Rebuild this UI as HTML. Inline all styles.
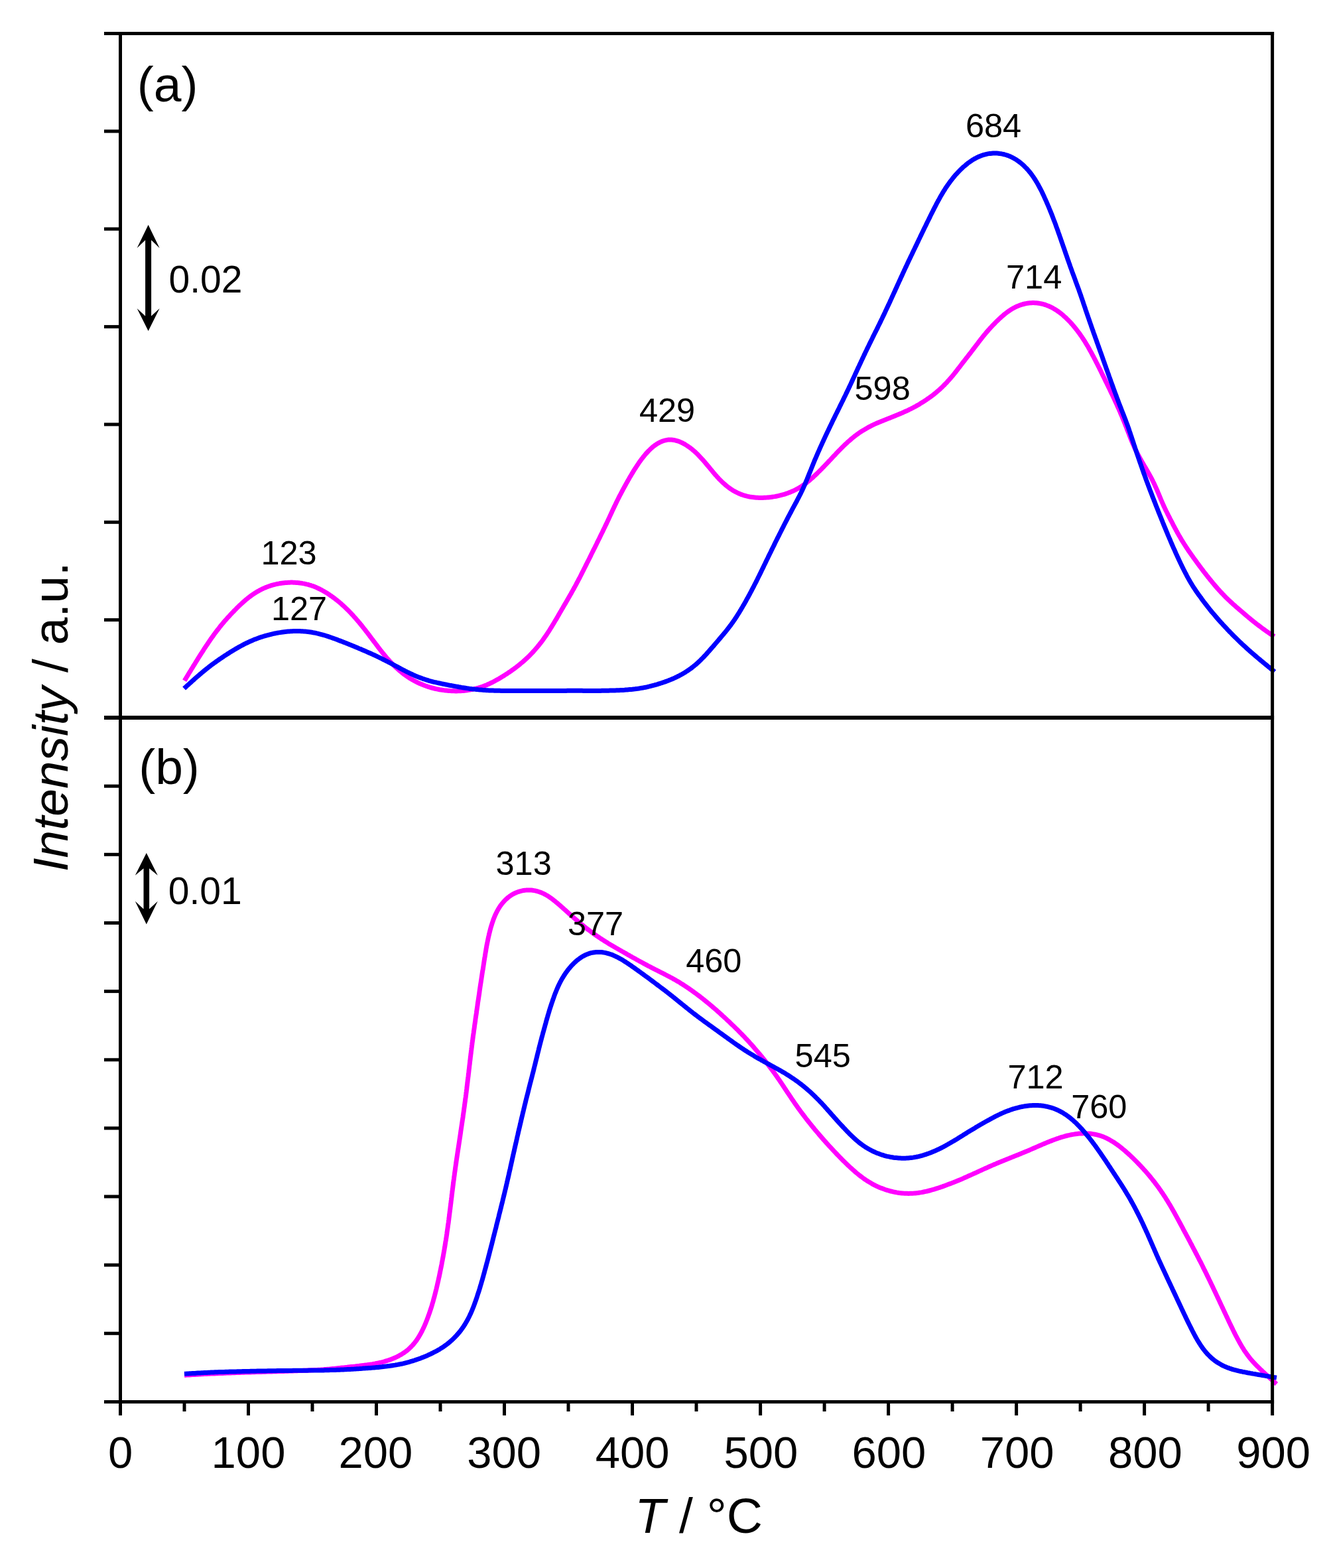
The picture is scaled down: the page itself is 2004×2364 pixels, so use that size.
<!DOCTYPE html>
<html><head><meta charset="utf-8"><title>TPD profiles</title>
<style>html,body{margin:0;padding:0;background:#fff;}svg{display:block;}</style></head>
<body><svg xmlns="http://www.w3.org/2000/svg" width="2004" height="2364" viewBox="0 0 2004 2364">
<rect width="2004" height="2364" fill="#fff"/>
<path d="M278.2,1026.2 L279.2,1024.5 L280.3,1022.8 L281.3,1021.1 L282.3,1019.4 L283.4,1017.6 L284.4,1015.9 L285.5,1014.2 L286.5,1012.5 L287.6,1010.8 L288.6,1009.1 L289.7,1007.4 L290.7,1005.7 L291.7,1004.0 L292.8,1002.3 L293.9,1000.6 L294.9,998.9 L296.0,997.2 L297.0,995.5 L298.1,993.8 L299.1,992.1 L300.2,990.4 L301.3,988.7 L302.3,987.0 L303.4,985.3 L304.5,983.7 L305.6,982.0 L306.7,980.3 L307.7,978.6 L308.8,976.9 L309.9,975.3 L311.0,973.6 L312.2,971.9 L313.3,970.3 L314.4,968.6 L315.5,967.0 L316.6,965.3 L317.8,963.7 L318.9,962.0 L320.1,960.4 L321.3,958.8 L322.4,957.1 L323.6,955.5 L324.8,953.9 L326.0,952.3 L327.2,950.7 L328.4,949.2 L329.7,947.6 L330.9,946.0 L332.1,944.4 L333.4,942.9 L334.7,941.3 L336.0,939.8 L337.2,938.3 L338.5,936.7 L339.9,935.2 L341.2,933.7 L342.5,932.2 L343.9,930.7 L345.2,929.3 L346.6,927.8 L347.9,926.3 L349.3,924.9 L350.7,923.4 L352.1,922.0 L353.5,920.5 L354.9,919.1 L356.3,917.7 L357.7,916.2 L359.2,914.8 L360.6,913.4 L362.1,912.0 L363.5,910.7 L365.0,909.3 L366.5,908.0 L368.0,906.6 L369.5,905.3 L371.0,904.0 L372.6,902.8 L374.1,901.5 L375.7,900.3 L377.3,899.1 L378.9,897.9 L380.5,896.7 L382.2,895.6 L383.9,894.5 L385.5,893.5 L387.2,892.4 L389.0,891.4 L390.7,890.4 L392.5,889.5 L394.2,888.6 L396.0,887.7 L397.8,886.9 L399.6,886.1 L401.5,885.4 L403.3,884.6 L405.2,884.0 L407.1,883.3 L409.0,882.7 L410.9,882.1 L412.8,881.6 L414.8,881.1 L416.7,880.7 L418.7,880.2 L420.6,879.9 L422.6,879.5 L424.6,879.2 L426.6,878.9 L428.6,878.7 L430.6,878.5 L432.6,878.4 L434.6,878.3 L436.6,878.2 L438.6,878.1 L440.6,878.1 L442.6,878.2 L444.6,878.3 L446.6,878.4 L448.5,878.5 L450.5,878.7 L452.5,879.0 L454.5,879.2 L456.4,879.6 L458.4,879.9 L460.3,880.3 L462.3,880.8 L464.2,881.2 L466.1,881.8 L468.0,882.3 L469.9,883.0 L471.8,883.6 L473.6,884.3 L475.5,885.1 L477.3,885.8 L479.1,886.7 L480.9,887.5 L482.7,888.4 L484.5,889.3 L486.2,890.3 L488.0,891.3 L489.7,892.3 L491.4,893.3 L493.1,894.3 L494.8,895.4 L496.5,896.5 L498.1,897.7 L499.8,898.8 L501.4,900.0 L503.0,901.1 L504.6,902.3 L506.2,903.6 L507.8,904.8 L509.4,906.1 L510.9,907.3 L512.5,908.6 L514.0,909.9 L515.5,911.3 L517.0,912.6 L518.5,914.0 L519.9,915.3 L521.4,916.7 L522.8,918.1 L524.3,919.5 L525.7,920.9 L527.1,922.4 L528.5,923.8 L529.8,925.3 L531.2,926.7 L532.6,928.2 L533.9,929.7 L535.2,931.2 L536.6,932.7 L537.9,934.2 L539.2,935.7 L540.5,937.3 L541.8,938.8 L543.0,940.3 L544.3,941.9 L545.6,943.4 L546.8,945.0 L548.1,946.6 L549.3,948.1 L550.6,949.7 L551.8,951.3 L553.0,952.9 L554.3,954.5 L555.5,956.1 L556.7,957.7 L557.9,959.3 L559.1,960.9 L560.3,962.5 L561.5,964.1 L562.7,965.7 L563.9,967.3 L565.2,968.9 L566.4,970.5 L567.6,972.1 L568.8,973.7 L570.0,975.3 L571.2,976.9 L572.4,978.5 L573.7,980.1 L574.9,981.6 L576.1,983.2 L577.4,984.8 L578.6,986.3 L579.9,987.9 L581.2,989.4 L582.5,991.0 L583.8,992.5 L585.1,994.0 L586.5,995.5 L587.8,997.0 L589.2,998.4 L590.6,999.9 L591.9,1001.3 L593.4,1002.7 L594.8,1004.1 L596.2,1005.5 L597.7,1006.9 L599.2,1008.2 L600.7,1009.5 L602.2,1010.9 L603.7,1012.1 L605.2,1013.4 L606.8,1014.7 L608.4,1015.9 L610.0,1017.1 L611.6,1018.2 L613.2,1019.4 L614.9,1020.5 L616.5,1021.6 L618.2,1022.7 L619.9,1023.7 L621.6,1024.7 L623.4,1025.7 L625.1,1026.7 L626.9,1027.6 L628.6,1028.5 L630.4,1029.4 L632.2,1030.2 L634.1,1031.0 L635.9,1031.8 L637.8,1032.6 L639.6,1033.3 L641.5,1034.0 L643.4,1034.6 L645.3,1035.3 L647.2,1035.9 L649.1,1036.5 L651.0,1037.0 L653.0,1037.5 L654.9,1038.0 L656.9,1038.5 L658.8,1038.9 L660.8,1039.3 L662.8,1039.7 L664.7,1040.0 L666.7,1040.3 L668.7,1040.6 L670.7,1040.9 L672.7,1041.1 L674.7,1041.3 L676.7,1041.5 L678.7,1041.6 L680.7,1041.7 L682.7,1041.8 L684.7,1041.8 L686.7,1041.9 L688.7,1041.9 L690.7,1041.8 L692.7,1041.8 L694.7,1041.7 L696.7,1041.5 L698.7,1041.4 L700.7,1041.2 L702.7,1040.9 L704.6,1040.7 L706.6,1040.4 L708.6,1040.1 L710.5,1039.7 L712.5,1039.3 L714.4,1038.9 L716.4,1038.5 L718.3,1038.0 L720.2,1037.5 L722.1,1036.9 L724.0,1036.3 L725.9,1035.7 L727.8,1035.0 L729.7,1034.3 L731.5,1033.6 L733.3,1032.9 L735.2,1032.1 L737.0,1031.3 L738.8,1030.4 L740.6,1029.5 L742.4,1028.7 L744.2,1027.7 L745.9,1026.8 L747.7,1025.8 L749.4,1024.9 L751.2,1023.9 L752.9,1022.9 L754.7,1021.9 L756.4,1020.8 L758.1,1019.8 L759.8,1018.7 L761.5,1017.6 L763.2,1016.6 L764.9,1015.5 L766.5,1014.3 L768.2,1013.2 L769.9,1012.1 L771.5,1010.9 L773.1,1009.7 L774.8,1008.6 L776.4,1007.4 L778.0,1006.2 L779.6,1004.9 L781.2,1003.7 L782.7,1002.5 L784.3,1001.2 L785.8,999.9 L787.4,998.6 L788.9,997.3 L790.4,996.0 L791.9,994.7 L793.3,993.3 L794.8,992.0 L796.2,990.6 L797.7,989.2 L799.1,987.8 L800.5,986.4 L801.9,984.9 L803.2,983.5 L804.6,982.0 L805.9,980.5 L807.2,979.0 L808.5,977.5 L809.8,976.0 L811.1,974.4 L812.4,972.9 L813.6,971.3 L814.8,969.8 L816.1,968.2 L817.3,966.6 L818.5,965.0 L819.6,963.3 L820.8,961.7 L821.9,960.1 L823.1,958.4 L824.2,956.8 L825.3,955.1 L826.4,953.4 L827.5,951.8 L828.6,950.1 L829.6,948.4 L830.7,946.7 L831.8,945.0 L832.8,943.3 L833.8,941.6 L834.9,939.9 L835.9,938.1 L836.9,936.4 L838.0,934.7 L839.0,933.0 L840.0,931.2 L841.0,929.5 L842.0,927.8 L843.0,926.0 L844.0,924.3 L845.0,922.6 L846.0,920.9 L847.0,919.1 L848.0,917.4 L849.0,915.7 L850.0,913.9 L851.0,912.2 L852.1,910.5 L853.1,908.7 L854.1,907.0 L855.1,905.3 L856.1,903.5 L857.1,901.8 L858.1,900.1 L859.1,898.3 L860.1,896.6 L861.1,894.9 L862.0,893.1 L863.0,891.4 L864.0,889.6 L865.0,887.9 L865.9,886.1 L866.9,884.4 L867.9,882.6 L868.8,880.9 L869.7,879.1 L870.7,877.3 L871.6,875.6 L872.5,873.8 L873.5,872.0 L874.4,870.3 L875.3,868.5 L876.2,866.7 L877.1,864.9 L878.0,863.1 L878.9,861.3 L879.8,859.6 L880.7,857.8 L881.6,856.0 L882.5,854.2 L883.4,852.4 L884.3,850.6 L885.2,848.8 L886.1,847.0 L887.0,845.3 L887.9,843.5 L888.8,841.7 L889.7,839.9 L890.6,838.1 L891.4,836.3 L892.3,834.5 L893.2,832.7 L894.1,830.9 L895.0,829.1 L895.9,827.3 L896.8,825.6 L897.7,823.8 L898.6,822.0 L899.5,820.2 L900.3,818.4 L901.2,816.6 L902.1,814.8 L903.0,813.0 L903.9,811.2 L904.8,809.4 L905.6,807.6 L906.5,805.8 L907.4,804.0 L908.3,802.2 L909.2,800.4 L910.0,798.6 L910.9,796.8 L911.8,795.0 L912.6,793.2 L913.5,791.4 L914.4,789.6 L915.2,787.8 L916.1,786.0 L916.9,784.2 L917.8,782.4 L918.6,780.6 L919.4,778.8 L920.3,777.0 L921.1,775.1 L922.0,773.3 L922.8,771.5 L923.6,769.7 L924.5,767.9 L925.3,766.1 L926.2,764.3 L927.0,762.5 L927.9,760.7 L928.8,758.9 L929.6,757.1 L930.5,755.3 L931.4,753.5 L932.3,751.7 L933.2,749.9 L934.1,748.1 L935.0,746.4 L936.0,744.6 L936.9,742.8 L937.8,741.1 L938.8,739.3 L939.7,737.5 L940.7,735.8 L941.6,734.0 L942.6,732.2 L943.6,730.5 L944.5,728.7 L945.5,727.0 L946.5,725.2 L947.5,723.4 L948.5,721.7 L949.5,719.9 L950.6,718.2 L951.6,716.4 L952.6,714.7 L953.7,713.0 L954.7,711.2 L955.8,709.5 L956.9,707.7 L958.0,706.0 L959.1,704.3 L960.2,702.6 L961.3,700.9 L962.5,699.2 L963.6,697.5 L964.8,695.8 L966.0,694.2 L967.2,692.5 L968.5,690.9 L969.7,689.3 L971.0,687.7 L972.3,686.1 L973.6,684.5 L975.0,683.0 L976.4,681.5 L977.8,680.0 L979.2,678.6 L980.6,677.2 L982.1,675.8 L983.6,674.5 L985.1,673.2 L986.7,672.0 L988.3,670.9 L989.9,669.8 L991.5,668.8 L993.2,667.8 L994.9,666.9 L996.6,666.1 L998.3,665.4 L1000.1,664.8 L1001.8,664.2 L1003.6,663.8 L1005.4,663.4 L1007.2,663.1 L1009.0,663.0 L1010.8,662.9 L1012.6,663.0 L1014.4,663.2 L1016.2,663.4 L1018.0,663.8 L1019.8,664.3 L1021.6,664.8 L1023.4,665.4 L1025.2,666.1 L1026.9,666.9 L1028.7,667.7 L1030.4,668.6 L1032.2,669.5 L1033.9,670.6 L1035.5,671.6 L1037.2,672.7 L1038.8,673.9 L1040.5,675.0 L1042.1,676.3 L1043.7,677.5 L1045.2,678.8 L1046.8,680.2 L1048.3,681.5 L1049.8,682.9 L1051.3,684.4 L1052.8,685.8 L1054.2,687.3 L1055.6,688.8 L1057.0,690.3 L1058.4,691.8 L1059.8,693.3 L1061.1,694.9 L1062.5,696.4 L1063.8,698.0 L1065.1,699.6 L1066.4,701.1 L1067.8,702.7 L1069.1,704.3 L1070.4,705.9 L1071.7,707.5 L1073.0,709.0 L1074.3,710.6 L1075.6,712.2 L1076.9,713.7 L1078.2,715.3 L1079.6,716.8 L1080.9,718.3 L1082.3,719.8 L1083.6,721.3 L1085.0,722.8 L1086.5,724.2 L1087.9,725.6 L1089.3,727.0 L1090.8,728.4 L1092.3,729.7 L1093.8,731.0 L1095.3,732.3 L1096.8,733.5 L1098.4,734.7 L1100.0,735.9 L1101.6,737.0 L1103.3,738.1 L1104.9,739.2 L1106.6,740.2 L1108.3,741.1 L1110.1,742.0 L1111.8,742.9 L1113.6,743.7 L1115.4,744.5 L1117.2,745.3 L1119.1,745.9 L1120.9,746.6 L1122.8,747.1 L1124.7,747.7 L1126.6,748.2 L1128.5,748.6 L1130.5,749.0 L1132.4,749.3 L1134.4,749.6 L1136.3,749.8 L1138.3,750.0 L1140.3,750.2 L1142.3,750.3 L1144.3,750.4 L1146.3,750.4 L1148.3,750.4 L1150.3,750.4 L1152.3,750.3 L1154.4,750.2 L1156.4,750.1 L1158.4,749.9 L1160.4,749.7 L1162.4,749.5 L1164.4,749.2 L1166.4,748.9 L1168.4,748.6 L1170.4,748.2 L1172.3,747.8 L1174.3,747.4 L1176.3,746.9 L1178.2,746.4 L1180.1,745.9 L1182.1,745.4 L1184.0,744.8 L1185.9,744.1 L1187.8,743.5 L1189.6,742.8 L1191.5,742.1 L1193.3,741.3 L1195.2,740.5 L1197.0,739.7 L1198.8,738.8 L1200.5,737.9 L1202.3,737.0 L1204.0,736.0 L1205.7,735.0 L1207.4,733.9 L1209.1,732.9 L1210.7,731.7 L1212.4,730.6 L1214.0,729.4 L1215.6,728.3 L1217.1,727.0 L1218.7,725.8 L1220.2,724.5 L1221.8,723.2 L1223.3,721.9 L1224.8,720.6 L1226.3,719.3 L1227.7,717.9 L1229.2,716.5 L1230.7,715.2 L1232.1,713.8 L1233.5,712.4 L1235.0,710.9 L1236.4,709.5 L1237.8,708.1 L1239.2,706.7 L1240.6,705.2 L1242.0,703.8 L1243.4,702.3 L1244.8,700.9 L1246.2,699.4 L1247.6,698.0 L1248.9,696.5 L1250.3,695.0 L1251.7,693.6 L1253.1,692.1 L1254.5,690.6 L1255.8,689.2 L1257.2,687.7 L1258.6,686.3 L1260.0,684.8 L1261.3,683.3 L1262.7,681.9 L1264.1,680.4 L1265.5,679.0 L1266.9,677.6 L1268.3,676.1 L1269.7,674.7 L1271.2,673.3 L1272.6,671.9 L1274.0,670.5 L1275.5,669.1 L1277.0,667.8 L1278.4,666.4 L1279.9,665.1 L1281.4,663.8 L1282.9,662.5 L1284.4,661.2 L1286.0,659.9 L1287.5,658.7 L1289.1,657.4 L1290.7,656.2 L1292.3,655.0 L1293.9,653.9 L1295.5,652.7 L1297.1,651.6 L1298.8,650.5 L1300.5,649.4 L1302.2,648.4 L1303.9,647.4 L1305.6,646.4 L1307.3,645.4 L1309.0,644.4 L1310.8,643.5 L1312.6,642.6 L1314.3,641.7 L1316.1,640.8 L1317.9,639.9 L1319.7,639.1 L1321.6,638.3 L1323.4,637.5 L1325.2,636.7 L1327.1,636.0 L1328.9,635.2 L1330.8,634.5 L1332.6,633.7 L1334.5,633.0 L1336.4,632.2 L1338.2,631.5 L1340.1,630.8 L1342.0,630.1 L1343.8,629.3 L1345.7,628.6 L1347.5,627.8 L1349.4,627.1 L1351.3,626.3 L1353.1,625.6 L1355.0,624.8 L1356.8,624.0 L1358.6,623.2 L1360.5,622.5 L1362.3,621.6 L1364.1,620.8 L1365.9,620.0 L1367.8,619.2 L1369.6,618.3 L1371.3,617.4 L1373.1,616.6 L1374.9,615.7 L1376.7,614.7 L1378.4,613.8 L1380.2,612.9 L1381.9,611.9 L1383.7,610.9 L1385.4,609.9 L1387.1,608.9 L1388.8,607.8 L1390.5,606.8 L1392.2,605.7 L1393.9,604.7 L1395.5,603.6 L1397.2,602.5 L1398.8,601.3 L1400.5,600.2 L1402.1,599.0 L1403.7,597.9 L1405.3,596.7 L1406.9,595.5 L1408.5,594.2 L1410.0,593.0 L1411.6,591.7 L1413.1,590.4 L1414.6,589.1 L1416.1,587.8 L1417.6,586.5 L1419.0,585.1 L1420.5,583.8 L1421.9,582.4 L1423.3,581.0 L1424.7,579.5 L1426.1,578.1 L1427.5,576.7 L1428.8,575.2 L1430.2,573.7 L1431.5,572.2 L1432.8,570.8 L1434.1,569.2 L1435.4,567.7 L1436.7,566.2 L1438.0,564.6 L1439.2,563.1 L1440.5,561.5 L1441.7,560.0 L1442.9,558.4 L1444.1,556.8 L1445.3,555.2 L1446.6,553.7 L1447.8,552.1 L1449.0,550.5 L1450.2,548.9 L1451.4,547.3 L1452.6,545.8 L1453.9,544.2 L1455.1,542.6 L1456.3,541.0 L1457.5,539.5 L1458.8,537.9 L1460.0,536.3 L1461.2,534.7 L1462.4,533.2 L1463.7,531.6 L1464.9,530.0 L1466.1,528.4 L1467.3,526.8 L1468.5,525.3 L1469.7,523.7 L1470.9,522.1 L1472.1,520.5 L1473.4,518.9 L1474.6,517.3 L1475.8,515.7 L1477.0,514.1 L1478.2,512.5 L1479.4,511.0 L1480.7,509.4 L1481.9,507.8 L1483.2,506.3 L1484.4,504.7 L1485.7,503.2 L1487.0,501.6 L1488.3,500.1 L1489.6,498.6 L1490.9,497.1 L1492.3,495.6 L1493.6,494.1 L1495.0,492.7 L1496.4,491.2 L1497.8,489.7 L1499.2,488.3 L1500.6,486.8 L1502.0,485.4 L1503.4,484.0 L1504.9,482.6 L1506.3,481.2 L1507.8,479.8 L1509.3,478.5 L1510.8,477.1 L1512.3,475.8 L1513.8,474.5 L1515.4,473.2 L1517.0,472.0 L1518.6,470.8 L1520.2,469.6 L1521.8,468.5 L1523.5,467.4 L1525.2,466.3 L1526.9,465.3 L1528.6,464.3 L1530.4,463.4 L1532.1,462.5 L1533.9,461.7 L1535.8,461.0 L1537.6,460.3 L1539.5,459.6 L1541.4,459.0 L1543.3,458.5 L1545.2,458.0 L1547.1,457.6 L1549.0,457.3 L1551.0,457.0 L1552.9,456.8 L1554.9,456.7 L1556.9,456.6 L1558.8,456.6 L1560.8,456.7 L1562.7,456.8 L1564.7,457.0 L1566.6,457.3 L1568.6,457.6 L1570.5,458.0 L1572.4,458.4 L1574.3,459.0 L1576.2,459.5 L1578.1,460.2 L1579.9,460.9 L1581.7,461.6 L1583.5,462.5 L1585.3,463.3 L1587.1,464.2 L1588.8,465.2 L1590.5,466.2 L1592.2,467.3 L1593.9,468.4 L1595.5,469.5 L1597.2,470.7 L1598.8,471.9 L1600.3,473.1 L1601.9,474.4 L1603.4,475.7 L1604.9,477.1 L1606.4,478.4 L1607.9,479.8 L1609.3,481.2 L1610.8,482.6 L1612.2,484.1 L1613.6,485.5 L1614.9,487.0 L1616.3,488.5 L1617.6,490.0 L1618.9,491.6 L1620.2,493.1 L1621.5,494.7 L1622.7,496.3 L1624.0,497.9 L1625.2,499.5 L1626.4,501.1 L1627.6,502.7 L1628.8,504.3 L1629.9,506.0 L1631.1,507.6 L1632.2,509.3 L1633.3,511.0 L1634.4,512.7 L1635.5,514.3 L1636.5,516.0 L1637.6,517.8 L1638.6,519.5 L1639.6,521.2 L1640.7,522.9 L1641.7,524.7 L1642.6,526.4 L1643.6,528.2 L1644.6,529.9 L1645.6,531.7 L1646.5,533.4 L1647.4,535.2 L1648.4,537.0 L1649.3,538.7 L1650.2,540.5 L1651.2,542.3 L1652.1,544.1 L1653.0,545.9 L1653.9,547.7 L1654.8,549.4 L1655.7,551.2 L1656.6,553.0 L1657.5,554.8 L1658.4,556.6 L1659.3,558.4 L1660.2,560.2 L1661.0,562.0 L1661.9,563.8 L1662.8,565.6 L1663.7,567.4 L1664.6,569.2 L1665.5,571.0 L1666.3,572.8 L1667.2,574.6 L1668.1,576.4 L1669.0,578.2 L1669.8,580.0 L1670.7,581.8 L1671.6,583.6 L1672.5,585.4 L1673.3,587.2 L1674.2,589.0 L1675.0,590.8 L1675.9,592.6 L1676.8,594.4 L1677.6,596.2 L1678.5,598.0 L1679.3,599.8 L1680.2,601.6 L1681.0,603.5 L1681.8,605.3 L1682.7,607.1 L1683.5,608.9 L1684.3,610.7 L1685.1,612.6 L1685.9,614.4 L1686.8,616.2 L1687.6,618.0 L1688.4,619.9 L1689.2,621.7 L1689.9,623.6 L1690.7,625.4 L1691.5,627.2 L1692.3,629.1 L1693.0,630.9 L1693.8,632.8 L1694.6,634.6 L1695.3,636.5 L1696.1,638.3 L1696.8,640.2 L1697.5,642.1 L1698.3,643.9 L1699.0,645.8 L1699.7,647.7 L1700.4,649.5 L1701.2,651.4 L1701.9,653.3 L1702.6,655.1 L1703.3,657.0 L1704.1,658.8 L1704.8,660.7 L1705.5,662.6 L1706.3,664.4 L1707.0,666.2 L1707.8,668.1 L1708.6,669.9 L1709.4,671.7 L1710.2,673.6 L1711.0,675.4 L1711.8,677.2 L1712.7,679.0 L1713.6,680.8 L1714.5,682.5 L1715.4,684.3 L1716.3,686.1 L1717.3,687.8 L1718.2,689.6 L1719.2,691.3 L1720.2,693.0 L1721.2,694.8 L1722.2,696.5 L1723.2,698.2 L1724.2,699.9 L1725.2,701.7 L1726.2,703.4 L1727.2,705.1 L1728.2,706.8 L1729.2,708.5 L1730.2,710.3 L1731.2,712.0 L1732.2,713.7 L1733.2,715.5 L1734.2,717.2 L1735.1,719.0 L1736.0,720.7 L1737.0,722.5 L1737.9,724.3 L1738.7,726.0 L1739.6,727.8 L1740.5,729.6 L1741.3,731.4 L1742.1,733.3 L1743.0,735.1 L1743.8,736.9 L1744.6,738.7 L1745.4,740.5 L1746.1,742.4 L1746.9,744.2 L1747.7,746.0 L1748.4,747.9 L1749.2,749.7 L1750.0,751.6 L1750.7,753.4 L1751.5,755.2 L1752.3,757.1 L1753.1,758.9 L1753.9,760.7 L1754.7,762.5 L1755.5,764.3 L1756.4,766.1 L1757.2,767.9 L1758.1,769.7 L1759.0,771.5 L1759.9,773.3 L1760.8,775.1 L1761.7,776.9 L1762.6,778.6 L1763.5,780.4 L1764.4,782.2 L1765.3,784.0 L1766.2,785.7 L1767.2,787.5 L1768.1,789.3 L1769.0,791.1 L1769.9,792.8 L1770.9,794.6 L1771.8,796.4 L1772.8,798.1 L1773.7,799.9 L1774.7,801.6 L1775.6,803.4 L1776.6,805.1 L1777.6,806.9 L1778.6,808.6 L1779.6,810.3 L1780.6,812.0 L1781.6,813.8 L1782.7,815.5 L1783.7,817.2 L1784.8,818.9 L1785.8,820.5 L1786.9,822.2 L1788.0,823.9 L1789.1,825.6 L1790.2,827.2 L1791.3,828.9 L1792.4,830.6 L1793.6,832.2 L1794.7,833.8 L1795.9,835.5 L1797.0,837.1 L1798.2,838.7 L1799.3,840.4 L1800.5,842.0 L1801.7,843.6 L1802.9,845.2 L1804.0,846.8 L1805.2,848.5 L1806.4,850.1 L1807.6,851.7 L1808.8,853.3 L1810.0,854.9 L1811.2,856.5 L1812.4,858.1 L1813.6,859.7 L1814.8,861.3 L1816.0,862.9 L1817.3,864.5 L1818.5,866.0 L1819.7,867.6 L1821.0,869.2 L1822.2,870.8 L1823.5,872.3 L1824.7,873.9 L1826.0,875.4 L1827.3,877.0 L1828.5,878.5 L1829.8,880.0 L1831.1,881.6 L1832.4,883.1 L1833.7,884.6 L1835.0,886.1 L1836.3,887.6 L1837.7,889.1 L1839.0,890.6 L1840.4,892.1 L1841.7,893.5 L1843.1,895.0 L1844.5,896.4 L1845.8,897.9 L1847.2,899.3 L1848.6,900.7 L1850.1,902.1 L1851.5,903.5 L1852.9,904.9 L1854.4,906.2 L1855.9,907.6 L1857.3,908.9 L1858.8,910.3 L1860.3,911.6 L1861.8,912.9 L1863.3,914.3 L1864.8,915.6 L1866.3,916.9 L1867.8,918.2 L1869.3,919.5 L1870.9,920.8 L1872.4,922.1 L1873.9,923.4 L1875.4,924.7 L1876.9,926.0 L1878.5,927.3 L1880.0,928.6 L1881.5,929.9 L1883.1,931.2 L1884.6,932.4 L1886.1,933.7 L1887.7,935.0 L1889.2,936.2 L1890.8,937.5 L1892.4,938.7 L1893.9,940.0 L1895.5,941.2 L1897.1,942.4 L1898.7,943.6 L1900.3,944.8 L1901.9,946.0 L1903.5,947.2 L1905.1,948.4 L1906.7,949.5 L1908.3,950.7 L1909.9,951.8 L1911.6,953.0 L1913.2,954.1 L1914.8,955.2 L1916.5,956.3 L1918.1,957.4 L1919.8,958.5 L1921.5,959.6" fill="none" stroke="#FF00FF" stroke-width="7" stroke-linejoin="round" stroke-linecap="butt"/>
<path d="M277.6,1038.0 L279.1,1036.6 L280.6,1035.3 L282.0,1033.9 L283.5,1032.6 L285.0,1031.3 L286.5,1029.9 L288.0,1028.6 L289.5,1027.2 L291.0,1025.9 L292.4,1024.6 L293.9,1023.2 L295.4,1021.9 L296.9,1020.6 L298.5,1019.3 L300.0,1018.0 L301.5,1016.6 L303.0,1015.4 L304.5,1014.1 L306.1,1012.8 L307.6,1011.5 L309.2,1010.2 L310.7,1009.0 L312.3,1007.7 L313.9,1006.5 L315.4,1005.3 L317.0,1004.1 L318.6,1002.8 L320.2,1001.6 L321.8,1000.5 L323.4,999.3 L325.1,998.1 L326.7,996.9 L328.3,995.8 L330.0,994.6 L331.6,993.5 L333.3,992.4 L334.9,991.3 L336.6,990.2 L338.3,989.0 L339.9,987.9 L341.6,986.9 L343.3,985.8 L345.0,984.7 L346.7,983.6 L348.4,982.6 L350.1,981.5 L351.8,980.5 L353.5,979.4 L355.2,978.4 L357.0,977.4 L358.7,976.4 L360.5,975.4 L362.2,974.5 L364.0,973.5 L365.7,972.6 L367.5,971.6 L369.3,970.7 L371.1,969.8 L372.9,969.0 L374.7,968.1 L376.5,967.3 L378.3,966.5 L380.2,965.7 L382.0,964.9 L383.9,964.1 L385.7,963.4 L387.6,962.7 L389.5,962.0 L391.3,961.3 L393.2,960.7 L395.1,960.1 L397.0,959.5 L399.0,958.9 L400.9,958.3 L402.8,957.8 L404.7,957.3 L406.7,956.8 L408.6,956.3 L410.6,955.8 L412.5,955.4 L414.5,955.0 L416.5,954.6 L418.4,954.2 L420.4,953.9 L422.4,953.6 L424.4,953.3 L426.4,953.0 L428.3,952.7 L430.3,952.5 L432.3,952.3 L434.3,952.1 L436.3,951.9 L438.3,951.8 L440.3,951.7 L442.3,951.6 L444.3,951.5 L446.3,951.5 L448.3,951.5 L450.3,951.5 L452.3,951.6 L454.3,951.7 L456.3,951.8 L458.3,951.9 L460.2,952.1 L462.2,952.3 L464.2,952.5 L466.2,952.7 L468.1,953.0 L470.1,953.3 L472.1,953.7 L474.0,954.0 L476.0,954.4 L477.9,954.9 L479.9,955.3 L481.8,955.8 L483.7,956.3 L485.7,956.8 L487.6,957.4 L489.5,957.9 L491.4,958.5 L493.3,959.1 L495.2,959.7 L497.1,960.4 L499.0,961.0 L500.9,961.7 L502.8,962.4 L504.7,963.0 L506.6,963.7 L508.5,964.4 L510.3,965.2 L512.2,965.9 L514.1,966.6 L516.0,967.3 L517.8,968.1 L519.7,968.8 L521.6,969.5 L523.4,970.3 L525.3,971.0 L527.1,971.8 L529.0,972.5 L530.9,973.3 L532.7,974.0 L534.6,974.8 L536.4,975.6 L538.3,976.3 L540.1,977.1 L542.0,977.9 L543.8,978.6 L545.7,979.4 L547.5,980.2 L549.3,981.0 L551.2,981.8 L553.0,982.6 L554.9,983.4 L556.7,984.2 L558.5,985.0 L560.3,985.8 L562.2,986.7 L564.0,987.5 L565.8,988.3 L567.6,989.2 L569.4,990.1 L571.2,990.9 L573.0,991.8 L574.8,992.7 L576.6,993.6 L578.4,994.5 L580.2,995.4 L582.0,996.3 L583.7,997.2 L585.5,998.1 L587.3,999.0 L589.1,1000.0 L590.8,1000.9 L592.6,1001.9 L594.4,1002.8 L596.1,1003.8 L597.9,1004.7 L599.7,1005.6 L601.4,1006.6 L603.2,1007.5 L605.0,1008.5 L606.7,1009.4 L608.5,1010.3 L610.3,1011.2 L612.1,1012.2 L613.9,1013.1 L615.7,1013.9 L617.5,1014.8 L619.3,1015.7 L621.1,1016.5 L622.9,1017.4 L624.7,1018.2 L626.5,1019.0 L628.3,1019.7 L630.2,1020.5 L632.0,1021.2 L633.9,1021.9 L635.7,1022.6 L637.6,1023.3 L639.5,1023.9 L641.4,1024.5 L643.2,1025.1 L645.1,1025.7 L647.0,1026.3 L648.9,1026.8 L650.9,1027.3 L652.8,1027.8 L654.7,1028.3 L656.6,1028.7 L658.6,1029.2 L660.5,1029.6 L662.5,1030.0 L664.4,1030.4 L666.3,1030.8 L668.3,1031.2 L670.2,1031.6 L672.2,1032.0 L674.2,1032.4 L676.1,1032.8 L678.1,1033.2 L680.0,1033.5 L682.0,1033.9 L684.0,1034.3 L685.9,1034.6 L687.9,1035.0 L689.9,1035.3 L691.9,1035.7 L693.8,1036.0 L695.8,1036.4 L697.8,1036.7 L699.7,1037.0 L701.7,1037.3 L703.7,1037.6 L705.7,1037.9 L707.7,1038.2 L709.7,1038.4 L711.6,1038.7 L713.6,1038.9 L715.6,1039.1 L717.6,1039.4 L719.6,1039.6 L721.6,1039.8 L723.6,1039.9 L725.6,1040.1 L727.6,1040.3 L729.5,1040.4 L731.5,1040.5 L733.5,1040.7 L735.5,1040.8 L737.5,1040.9 L739.5,1041.0 L741.5,1041.0 L743.5,1041.1 L745.5,1041.2 L747.5,1041.2 L749.5,1041.3 L751.5,1041.3 L753.5,1041.3 L755.5,1041.4 L757.5,1041.4 L759.5,1041.4 L761.5,1041.4 L763.5,1041.4 L765.5,1041.4 L767.5,1041.5 L769.5,1041.5 L771.5,1041.5 L773.6,1041.5 L775.6,1041.5 L777.6,1041.5 L779.6,1041.5 L781.6,1041.5 L783.6,1041.5 L785.6,1041.5 L787.6,1041.5 L789.6,1041.4 L791.6,1041.4 L793.6,1041.4 L795.6,1041.4 L797.6,1041.4 L799.6,1041.4 L801.6,1041.4 L803.6,1041.4 L805.6,1041.4 L807.6,1041.4 L809.6,1041.4 L811.6,1041.4 L813.6,1041.4 L815.6,1041.4 L817.6,1041.4 L819.6,1041.4 L821.6,1041.4 L823.6,1041.4 L825.6,1041.4 L827.6,1041.4 L829.6,1041.4 L831.6,1041.4 L833.6,1041.4 L835.6,1041.4 L837.6,1041.4 L839.6,1041.4 L841.6,1041.4 L843.6,1041.4 L845.6,1041.4 L847.6,1041.4 L849.6,1041.4 L851.6,1041.4 L853.6,1041.4 L855.6,1041.3 L857.6,1041.3 L859.6,1041.3 L861.6,1041.3 L863.6,1041.3 L865.6,1041.3 L867.6,1041.3 L869.6,1041.3 L871.6,1041.3 L873.6,1041.3 L875.6,1041.3 L877.6,1041.3 L879.6,1041.4 L881.6,1041.4 L883.6,1041.4 L885.6,1041.4 L887.6,1041.4 L889.6,1041.4 L891.6,1041.4 L893.6,1041.4 L895.6,1041.4 L897.6,1041.4 L899.6,1041.4 L901.6,1041.4 L903.6,1041.4 L905.6,1041.4 L907.6,1041.3 L909.7,1041.3 L911.7,1041.3 L913.7,1041.3 L915.7,1041.2 L917.7,1041.2 L919.7,1041.1 L921.7,1041.1 L923.7,1041.0 L925.7,1041.0 L927.7,1040.9 L929.7,1040.8 L931.7,1040.8 L933.7,1040.7 L935.7,1040.6 L937.7,1040.5 L939.7,1040.4 L941.7,1040.3 L943.7,1040.1 L945.7,1040.0 L947.7,1039.8 L949.6,1039.6 L951.6,1039.5 L953.6,1039.3 L955.6,1039.0 L957.6,1038.8 L959.6,1038.5 L961.6,1038.3 L963.5,1038.0 L965.5,1037.6 L967.5,1037.3 L969.4,1037.0 L971.4,1036.6 L973.4,1036.2 L975.3,1035.8 L977.3,1035.3 L979.2,1034.9 L981.2,1034.4 L983.1,1033.9 L985.1,1033.4 L987.0,1032.9 L988.9,1032.3 L990.9,1031.8 L992.8,1031.2 L994.7,1030.6 L996.6,1030.0 L998.5,1029.4 L1000.4,1028.7 L1002.3,1028.1 L1004.2,1027.4 L1006.1,1026.7 L1007.9,1026.0 L1009.8,1025.2 L1011.7,1024.5 L1013.5,1023.7 L1015.4,1022.9 L1017.2,1022.1 L1019.0,1021.3 L1020.8,1020.4 L1022.6,1019.5 L1024.4,1018.6 L1026.1,1017.7 L1027.9,1016.7 L1029.6,1015.7 L1031.3,1014.7 L1033.0,1013.7 L1034.7,1012.6 L1036.4,1011.6 L1038.0,1010.4 L1039.7,1009.3 L1041.3,1008.1 L1042.9,1007.0 L1044.4,1005.7 L1046.0,1004.5 L1047.5,1003.2 L1049.1,1002.0 L1050.6,1000.7 L1052.0,999.3 L1053.5,998.0 L1055.0,996.6 L1056.4,995.2 L1057.8,993.8 L1059.2,992.4 L1060.6,991.0 L1062.0,989.5 L1063.3,988.1 L1064.7,986.6 L1066.0,985.1 L1067.3,983.6 L1068.7,982.1 L1070.0,980.6 L1071.3,979.1 L1072.6,977.6 L1073.9,976.1 L1075.3,974.6 L1076.6,973.1 L1077.9,971.5 L1079.2,970.0 L1080.5,968.5 L1081.8,967.0 L1083.1,965.5 L1084.4,963.9 L1085.7,962.4 L1087.0,960.9 L1088.3,959.3 L1089.6,957.8 L1090.9,956.3 L1092.1,954.7 L1093.4,953.2 L1094.7,951.6 L1095.9,950.1 L1097.2,948.5 L1098.4,946.9 L1099.6,945.3 L1100.8,943.7 L1102.0,942.2 L1103.2,940.5 L1104.4,938.9 L1105.5,937.3 L1106.6,935.7 L1107.8,934.0 L1108.9,932.3 L1110.0,930.7 L1111.1,929.0 L1112.1,927.3 L1113.2,925.6 L1114.3,923.9 L1115.3,922.2 L1116.3,920.5 L1117.4,918.8 L1118.4,917.1 L1119.4,915.4 L1120.4,913.6 L1121.4,911.9 L1122.4,910.2 L1123.4,908.4 L1124.4,906.7 L1125.4,904.9 L1126.3,903.2 L1127.3,901.4 L1128.3,899.7 L1129.2,897.9 L1130.2,896.2 L1131.1,894.4 L1132.1,892.6 L1133.0,890.9 L1133.9,889.1 L1134.9,887.3 L1135.8,885.5 L1136.7,883.8 L1137.6,882.0 L1138.5,880.2 L1139.5,878.4 L1140.4,876.6 L1141.3,874.8 L1142.2,873.0 L1143.0,871.3 L1143.9,869.5 L1144.8,867.7 L1145.7,865.9 L1146.6,864.1 L1147.5,862.3 L1148.3,860.5 L1149.2,858.7 L1150.1,856.9 L1151.0,855.1 L1151.8,853.3 L1152.7,851.5 L1153.6,849.7 L1154.5,847.9 L1155.3,846.1 L1156.2,844.3 L1157.1,842.5 L1158.0,840.7 L1158.8,838.9 L1159.7,837.1 L1160.6,835.3 L1161.5,833.5 L1162.4,831.7 L1163.2,829.9 L1164.1,828.1 L1165.0,826.3 L1165.9,824.5 L1166.8,822.7 L1167.7,820.9 L1168.5,819.1 L1169.4,817.3 L1170.3,815.5 L1171.2,813.7 L1172.1,811.9 L1173.0,810.1 L1173.9,808.4 L1174.8,806.6 L1175.7,804.8 L1176.6,803.0 L1177.5,801.2 L1178.4,799.4 L1179.3,797.6 L1180.2,795.8 L1181.1,794.1 L1182.0,792.3 L1182.9,790.5 L1183.8,788.7 L1184.8,786.9 L1185.7,785.2 L1186.6,783.4 L1187.5,781.6 L1188.4,779.8 L1189.4,778.1 L1190.3,776.3 L1191.2,774.5 L1192.2,772.7 L1193.1,771.0 L1194.0,769.2 L1195.0,767.4 L1195.9,765.7 L1196.9,763.9 L1197.8,762.2 L1198.8,760.4 L1199.7,758.6 L1200.7,756.9 L1201.6,755.1 L1202.5,753.3 L1203.4,751.6 L1204.4,749.8 L1205.3,748.0 L1206.2,746.2 L1207.1,744.5 L1208.0,742.7 L1208.8,740.9 L1209.7,739.1 L1210.5,737.3 L1211.4,735.4 L1212.2,733.6 L1213.0,731.8 L1213.8,730.0 L1214.6,728.1 L1215.3,726.3 L1216.1,724.4 L1216.9,722.6 L1217.6,720.8 L1218.4,718.9 L1219.1,717.1 L1219.9,715.2 L1220.6,713.3 L1221.4,711.5 L1222.1,709.6 L1222.9,707.8 L1223.6,705.9 L1224.4,704.1 L1225.1,702.2 L1225.9,700.3 L1226.6,698.5 L1227.4,696.6 L1228.1,694.8 L1228.9,692.9 L1229.7,691.1 L1230.5,689.3 L1231.3,687.4 L1232.1,685.6 L1232.9,683.7 L1233.7,681.9 L1234.5,680.1 L1235.3,678.3 L1236.1,676.4 L1236.9,674.6 L1237.7,672.8 L1238.6,671.0 L1239.4,669.1 L1240.2,667.3 L1241.1,665.5 L1241.9,663.7 L1242.7,661.9 L1243.6,660.0 L1244.4,658.2 L1245.3,656.4 L1246.1,654.6 L1247.0,652.8 L1247.8,651.0 L1248.7,649.2 L1249.6,647.4 L1250.4,645.6 L1251.3,643.8 L1252.1,642.0 L1253.0,640.2 L1253.9,638.4 L1254.8,636.5 L1255.6,634.7 L1256.5,632.9 L1257.4,631.2 L1258.3,629.4 L1259.1,627.6 L1260.0,625.8 L1260.9,624.0 L1261.8,622.2 L1262.7,620.4 L1263.6,618.6 L1264.5,616.8 L1265.4,615.0 L1266.2,613.2 L1267.1,611.4 L1268.0,609.6 L1268.9,607.8 L1269.8,606.0 L1270.7,604.2 L1271.6,602.4 L1272.4,600.6 L1273.3,598.8 L1274.2,597.0 L1275.1,595.2 L1275.9,593.4 L1276.8,591.6 L1277.7,589.8 L1278.5,588.0 L1279.4,586.2 L1280.2,584.4 L1281.1,582.6 L1281.9,580.8 L1282.8,579.0 L1283.6,577.2 L1284.5,575.3 L1285.3,573.5 L1286.1,571.7 L1287.0,569.9 L1287.8,568.1 L1288.7,566.3 L1289.5,564.4 L1290.3,562.6 L1291.2,560.8 L1292.0,559.0 L1292.8,557.2 L1293.7,555.3 L1294.5,553.5 L1295.4,551.7 L1296.2,549.9 L1297.1,548.1 L1297.9,546.3 L1298.7,544.5 L1299.6,542.7 L1300.5,540.8 L1301.3,539.0 L1302.2,537.2 L1303.0,535.4 L1303.9,533.6 L1304.7,531.8 L1305.6,530.0 L1306.5,528.2 L1307.3,526.4 L1308.2,524.6 L1309.1,522.8 L1310.0,521.0 L1310.8,519.2 L1311.7,517.4 L1312.6,515.6 L1313.5,513.8 L1314.4,512.0 L1315.3,510.2 L1316.1,508.4 L1317.0,506.6 L1317.9,504.8 L1318.8,503.0 L1319.7,501.2 L1320.6,499.5 L1321.5,497.7 L1322.4,495.9 L1323.3,494.1 L1324.1,492.3 L1325.0,490.5 L1325.9,488.7 L1326.8,486.9 L1327.7,485.1 L1328.5,483.3 L1329.4,481.5 L1330.3,479.7 L1331.1,477.9 L1332.0,476.1 L1332.9,474.3 L1333.7,472.5 L1334.6,470.7 L1335.4,468.8 L1336.3,467.0 L1337.1,465.2 L1338.0,463.4 L1338.8,461.6 L1339.7,459.8 L1340.5,458.0 L1341.4,456.2 L1342.2,454.3 L1343.0,452.5 L1343.9,450.7 L1344.7,448.9 L1345.5,447.1 L1346.4,445.2 L1347.2,443.4 L1348.0,441.6 L1348.9,439.8 L1349.7,438.0 L1350.5,436.1 L1351.4,434.3 L1352.2,432.5 L1353.0,430.7 L1353.8,428.8 L1354.7,427.0 L1355.5,425.2 L1356.3,423.4 L1357.2,421.6 L1358.0,419.7 L1358.8,417.9 L1359.7,416.1 L1360.5,414.3 L1361.3,412.5 L1362.2,410.6 L1363.0,408.8 L1363.8,407.0 L1364.7,405.2 L1365.5,403.4 L1366.4,401.6 L1367.2,399.8 L1368.1,398.0 L1368.9,396.1 L1369.8,394.3 L1370.6,392.5 L1371.5,390.7 L1372.4,388.9 L1373.2,387.1 L1374.1,385.3 L1375.0,383.5 L1375.8,381.7 L1376.7,379.9 L1377.5,378.1 L1378.4,376.3 L1379.3,374.5 L1380.1,372.7 L1381.0,370.9 L1381.9,369.1 L1382.7,367.3 L1383.6,365.4 L1384.5,363.6 L1385.3,361.8 L1386.2,360.0 L1387.1,358.2 L1387.9,356.4 L1388.8,354.6 L1389.7,352.8 L1390.5,351.0 L1391.4,349.2 L1392.3,347.4 L1393.1,345.6 L1394.0,343.8 L1394.9,342.0 L1395.8,340.2 L1396.7,338.4 L1397.5,336.6 L1398.4,334.8 L1399.3,333.0 L1400.2,331.2 L1401.1,329.4 L1402.0,327.6 L1402.8,325.8 L1403.7,324.0 L1404.6,322.2 L1405.5,320.5 L1406.4,318.7 L1407.3,316.9 L1408.2,315.1 L1409.1,313.3 L1410.1,311.5 L1411.0,309.7 L1411.9,307.9 L1412.8,306.2 L1413.8,304.4 L1414.7,302.6 L1415.7,300.9 L1416.7,299.1 L1417.6,297.4 L1418.6,295.6 L1419.6,293.9 L1420.6,292.2 L1421.7,290.4 L1422.7,288.7 L1423.8,287.0 L1424.9,285.3 L1425.9,283.6 L1427.0,282.0 L1428.2,280.3 L1429.3,278.6 L1430.5,277.0 L1431.6,275.4 L1432.8,273.7 L1434.1,272.1 L1435.3,270.6 L1436.5,269.0 L1437.8,267.4 L1439.1,265.9 L1440.4,264.3 L1441.7,262.8 L1443.1,261.3 L1444.5,259.8 L1445.9,258.4 L1447.3,256.9 L1448.7,255.5 L1450.2,254.1 L1451.6,252.7 L1453.1,251.4 L1454.7,250.1 L1456.2,248.8 L1457.8,247.5 L1459.3,246.2 L1461.0,245.0 L1462.6,243.9 L1464.2,242.7 L1465.9,241.6 L1467.6,240.6 L1469.3,239.5 L1471.1,238.6 L1472.8,237.7 L1474.6,236.8 L1476.4,236.0 L1478.3,235.2 L1480.1,234.5 L1482.0,233.9 L1483.8,233.3 L1485.7,232.8 L1487.7,232.3 L1489.6,231.9 L1491.5,231.6 L1493.5,231.4 L1495.4,231.2 L1497.4,231.0 L1499.3,231.0 L1501.3,231.0 L1503.2,231.1 L1505.2,231.2 L1507.1,231.5 L1509.1,231.7 L1511.0,232.1 L1512.9,232.5 L1514.9,233.0 L1516.7,233.5 L1518.6,234.1 L1520.5,234.8 L1522.3,235.5 L1524.1,236.3 L1525.9,237.2 L1527.7,238.1 L1529.4,239.0 L1531.1,240.1 L1532.8,241.1 L1534.5,242.2 L1536.1,243.4 L1537.7,244.6 L1539.3,245.8 L1540.8,247.1 L1542.3,248.4 L1543.8,249.8 L1545.2,251.2 L1546.6,252.6 L1548.0,254.0 L1549.4,255.5 L1550.7,257.0 L1552.0,258.6 L1553.3,260.1 L1554.5,261.7 L1555.7,263.3 L1556.9,265.0 L1558.1,266.6 L1559.2,268.3 L1560.3,270.0 L1561.4,271.7 L1562.4,273.4 L1563.5,275.1 L1564.5,276.9 L1565.5,278.6 L1566.4,280.4 L1567.4,282.2 L1568.3,283.9 L1569.3,285.7 L1570.2,287.5 L1571.1,289.3 L1571.9,291.1 L1572.8,293.0 L1573.7,294.8 L1574.5,296.6 L1575.3,298.4 L1576.2,300.3 L1577.0,302.1 L1577.8,303.9 L1578.6,305.8 L1579.4,307.6 L1580.2,309.5 L1581.0,311.3 L1581.8,313.2 L1582.5,315.0 L1583.3,316.9 L1584.0,318.7 L1584.8,320.6 L1585.5,322.4 L1586.3,324.3 L1587.0,326.2 L1587.7,328.0 L1588.4,329.9 L1589.1,331.8 L1589.9,333.7 L1590.6,335.5 L1591.3,337.4 L1592.0,339.3 L1592.6,341.2 L1593.3,343.0 L1594.0,344.9 L1594.7,346.8 L1595.4,348.7 L1596.0,350.6 L1596.7,352.5 L1597.4,354.4 L1598.0,356.2 L1598.7,358.1 L1599.3,360.0 L1600.0,361.9 L1600.6,363.8 L1601.3,365.7 L1602.0,367.6 L1602.6,369.5 L1603.3,371.4 L1603.9,373.3 L1604.6,375.1 L1605.2,377.0 L1605.9,378.9 L1606.5,380.8 L1607.2,382.7 L1607.9,384.6 L1608.5,386.5 L1609.2,388.4 L1609.8,390.3 L1610.5,392.2 L1611.2,394.0 L1611.8,395.9 L1612.5,397.8 L1613.2,399.7 L1613.8,401.6 L1614.5,403.5 L1615.2,405.4 L1615.9,407.2 L1616.5,409.1 L1617.2,411.0 L1617.9,412.9 L1618.6,414.8 L1619.3,416.6 L1620.0,418.5 L1620.7,420.4 L1621.4,422.3 L1622.0,424.2 L1622.7,426.0 L1623.4,427.9 L1624.1,429.8 L1624.8,431.7 L1625.5,433.5 L1626.2,435.4 L1626.9,437.3 L1627.5,439.2 L1628.2,441.1 L1628.9,443.0 L1629.5,444.8 L1630.2,446.7 L1630.8,448.6 L1631.5,450.5 L1632.1,452.4 L1632.8,454.3 L1633.4,456.2 L1634.0,458.1 L1634.7,460.0 L1635.3,461.9 L1636.0,463.8 L1636.6,465.7 L1637.2,467.6 L1637.9,469.5 L1638.5,471.4 L1639.2,473.3 L1639.8,475.2 L1640.5,477.0 L1641.1,478.9 L1641.8,480.8 L1642.4,482.7 L1643.1,484.6 L1643.7,486.5 L1644.4,488.4 L1645.1,490.3 L1645.7,492.2 L1646.4,494.1 L1647.0,495.9 L1647.7,497.8 L1648.4,499.7 L1649.0,501.6 L1649.7,503.5 L1650.4,505.4 L1651.1,507.3 L1651.7,509.1 L1652.4,511.0 L1653.1,512.9 L1653.7,514.8 L1654.4,516.7 L1655.1,518.6 L1655.8,520.5 L1656.4,522.3 L1657.1,524.2 L1657.8,526.1 L1658.4,528.0 L1659.1,529.9 L1659.8,531.8 L1660.5,533.7 L1661.1,535.5 L1661.8,537.4 L1662.5,539.3 L1663.1,541.2 L1663.8,543.1 L1664.5,545.0 L1665.2,546.9 L1665.8,548.7 L1666.5,550.6 L1667.2,552.5 L1667.8,554.4 L1668.5,556.3 L1669.2,558.2 L1669.9,560.1 L1670.5,561.9 L1671.2,563.8 L1671.9,565.7 L1672.5,567.6 L1673.2,569.5 L1673.9,571.4 L1674.6,573.2 L1675.2,575.1 L1675.9,577.0 L1676.6,578.9 L1677.3,580.8 L1678.0,582.7 L1678.6,584.5 L1679.3,586.4 L1680.0,588.3 L1680.7,590.2 L1681.4,592.1 L1682.1,593.9 L1682.8,595.8 L1683.5,597.7 L1684.2,599.6 L1684.9,601.4 L1685.6,603.3 L1686.3,605.2 L1687.0,607.1 L1687.7,608.9 L1688.4,610.8 L1689.1,612.7 L1689.9,614.5 L1690.6,616.4 L1691.3,618.2 L1692.0,620.1 L1692.8,622.0 L1693.5,623.8 L1694.2,625.7 L1695.0,627.6 L1695.7,629.4 L1696.4,631.3 L1697.1,633.1 L1697.8,635.0 L1698.5,636.9 L1699.2,638.8 L1699.9,640.6 L1700.6,642.5 L1701.3,644.4 L1701.9,646.3 L1702.6,648.2 L1703.2,650.1 L1703.9,652.0 L1704.5,653.9 L1705.1,655.7 L1705.8,657.6 L1706.4,659.5 L1707.0,661.4 L1707.6,663.3 L1708.3,665.2 L1708.9,667.1 L1709.5,669.0 L1710.1,670.9 L1710.8,672.8 L1711.4,674.7 L1712.0,676.6 L1712.7,678.5 L1713.3,680.4 L1713.9,682.3 L1714.6,684.2 L1715.2,686.1 L1715.9,688.0 L1716.5,689.9 L1717.2,691.8 L1717.8,693.7 L1718.5,695.6 L1719.1,697.5 L1719.8,699.4 L1720.5,701.3 L1721.1,703.1 L1721.8,705.0 L1722.4,706.9 L1723.1,708.8 L1723.8,710.7 L1724.4,712.6 L1725.1,714.5 L1725.8,716.4 L1726.5,718.2 L1727.2,720.1 L1727.8,722.0 L1728.5,723.9 L1729.2,725.8 L1729.9,727.6 L1730.6,729.5 L1731.3,731.4 L1732.0,733.3 L1732.7,735.1 L1733.4,737.0 L1734.1,738.9 L1734.8,740.7 L1735.6,742.6 L1736.3,744.5 L1737.0,746.3 L1737.7,748.2 L1738.4,750.1 L1739.2,751.9 L1739.9,753.8 L1740.6,755.7 L1741.4,757.5 L1742.1,759.4 L1742.8,761.3 L1743.5,763.1 L1744.3,765.0 L1745.0,766.8 L1745.8,768.7 L1746.5,770.6 L1747.2,772.4 L1748.0,774.3 L1748.7,776.1 L1749.5,778.0 L1750.2,779.9 L1751.0,781.7 L1751.7,783.6 L1752.5,785.4 L1753.2,787.3 L1754.0,789.1 L1754.7,791.0 L1755.5,792.8 L1756.2,794.7 L1757.0,796.5 L1757.8,798.4 L1758.5,800.2 L1759.3,802.1 L1760.1,803.9 L1760.8,805.8 L1761.6,807.6 L1762.4,809.5 L1763.2,811.3 L1764.0,813.2 L1764.8,815.0 L1765.5,816.8 L1766.3,818.7 L1767.1,820.5 L1767.9,822.4 L1768.7,824.2 L1769.5,826.0 L1770.4,827.9 L1771.2,829.7 L1772.0,831.5 L1772.8,833.3 L1773.6,835.2 L1774.5,837.0 L1775.3,838.8 L1776.1,840.6 L1777.0,842.5 L1777.8,844.3 L1778.7,846.1 L1779.5,847.9 L1780.4,849.7 L1781.3,851.5 L1782.1,853.3 L1783.0,855.1 L1783.9,856.9 L1784.8,858.7 L1785.7,860.5 L1786.6,862.2 L1787.5,864.0 L1788.5,865.8 L1789.4,867.6 L1790.3,869.3 L1791.3,871.1 L1792.2,872.8 L1793.2,874.5 L1794.2,876.3 L1795.2,878.0 L1796.2,879.7 L1797.3,881.4 L1798.3,883.1 L1799.4,884.8 L1800.5,886.5 L1801.6,888.1 L1802.7,889.8 L1803.8,891.4 L1804.9,893.0 L1806.1,894.7 L1807.2,896.3 L1808.4,897.9 L1809.6,899.5 L1810.8,901.1 L1811.9,902.7 L1813.1,904.4 L1814.3,906.0 L1815.5,907.6 L1816.7,909.1 L1817.9,910.7 L1819.2,912.3 L1820.4,913.9 L1821.6,915.5 L1822.9,917.0 L1824.1,918.6 L1825.4,920.2 L1826.6,921.7 L1827.9,923.3 L1829.2,924.8 L1830.5,926.3 L1831.8,927.8 L1833.1,929.4 L1834.4,930.9 L1835.7,932.4 L1837.0,933.9 L1838.3,935.4 L1839.7,936.9 L1841.0,938.4 L1842.4,939.8 L1843.7,941.3 L1845.1,942.8 L1846.4,944.3 L1847.8,945.7 L1849.2,947.2 L1850.5,948.6 L1851.9,950.1 L1853.3,951.5 L1854.7,953.0 L1856.1,954.4 L1857.5,955.8 L1858.9,957.3 L1860.3,958.7 L1861.7,960.1 L1863.2,961.5 L1864.6,962.9 L1866.0,964.3 L1867.5,965.7 L1868.9,967.1 L1870.3,968.5 L1871.8,969.8 L1873.2,971.2 L1874.7,972.6 L1876.2,973.9 L1877.7,975.3 L1879.1,976.6 L1880.6,978.0 L1882.1,979.3 L1883.6,980.7 L1885.1,982.0 L1886.6,983.3 L1888.1,984.6 L1889.6,985.9 L1891.1,987.2 L1892.6,988.5 L1894.2,989.8 L1895.7,991.1 L1897.2,992.4 L1898.8,993.7 L1900.3,995.0 L1901.8,996.3 L1903.4,997.5 L1904.9,998.8 L1906.5,1000.1 L1908.0,1001.4 L1909.6,1002.6 L1911.1,1003.9 L1912.6,1005.2 L1914.2,1006.4 L1915.7,1007.7 L1917.3,1009.0 L1918.8,1010.2 L1920.4,1011.5 L1921.9,1012.8" fill="none" stroke="#0000FF" stroke-width="7" stroke-linejoin="round" stroke-linecap="butt"/>
<path d="M278.0,2073.4 L280.0,2073.2 L282.0,2073.1 L284.0,2073.0 L286.0,2072.9 L288.0,2072.8 L290.0,2072.6 L292.0,2072.5 L294.0,2072.4 L296.0,2072.3 L298.0,2072.2 L300.0,2072.1 L302.0,2072.0 L304.0,2071.8 L306.0,2071.7 L308.0,2071.6 L309.9,2071.5 L311.9,2071.4 L313.9,2071.3 L315.9,2071.2 L317.9,2071.1 L319.9,2071.0 L321.9,2070.9 L323.9,2070.9 L325.9,2070.8 L327.9,2070.7 L329.9,2070.6 L331.9,2070.5 L333.9,2070.4 L335.9,2070.4 L337.9,2070.3 L339.9,2070.2 L341.9,2070.1 L343.9,2070.0 L345.9,2070.0 L347.9,2069.9 L349.9,2069.8 L351.9,2069.8 L353.9,2069.7 L355.9,2069.6 L357.9,2069.5 L359.9,2069.5 L361.9,2069.4 L363.9,2069.3 L365.9,2069.3 L367.9,2069.2 L369.9,2069.1 L371.9,2069.1 L373.9,2069.0 L375.9,2069.0 L377.9,2068.9 L379.9,2068.8 L381.9,2068.8 L383.9,2068.7 L385.9,2068.6 L387.9,2068.6 L389.9,2068.5 L391.9,2068.4 L393.9,2068.4 L395.9,2068.3 L397.9,2068.3 L399.9,2068.2 L401.9,2068.1 L403.9,2068.1 L405.9,2068.0 L407.9,2068.0 L409.9,2067.9 L411.9,2067.8 L413.9,2067.8 L415.9,2067.7 L417.9,2067.7 L419.9,2067.6 L421.9,2067.5 L423.9,2067.5 L425.9,2067.4 L427.9,2067.4 L429.9,2067.3 L431.9,2067.2 L433.9,2067.2 L435.9,2067.1 L437.9,2067.0 L439.9,2067.0 L441.9,2066.9 L443.9,2066.8 L445.9,2066.8 L447.9,2066.7 L449.9,2066.6 L451.9,2066.6 L453.9,2066.5 L455.9,2066.4 L457.9,2066.3 L459.9,2066.3 L461.9,2066.2 L463.9,2066.1 L465.9,2066.0 L467.9,2065.9 L469.9,2065.8 L471.9,2065.7 L473.9,2065.6 L475.9,2065.5 L477.8,2065.4 L479.8,2065.3 L481.8,2065.2 L483.8,2065.1 L485.8,2064.9 L487.8,2064.8 L489.8,2064.6 L491.8,2064.5 L493.8,2064.3 L495.8,2064.2 L497.8,2064.0 L499.8,2063.8 L501.8,2063.6 L503.7,2063.4 L505.7,2063.2 L507.7,2063.0 L509.7,2062.8 L511.7,2062.6 L513.7,2062.3 L515.7,2062.1 L517.7,2061.9 L519.7,2061.7 L521.6,2061.5 L523.6,2061.3 L525.6,2061.0 L527.6,2060.8 L529.6,2060.6 L531.6,2060.4 L533.6,2060.2 L535.6,2060.0 L537.6,2059.7 L539.6,2059.5 L541.6,2059.3 L543.6,2059.0 L545.6,2058.8 L547.6,2058.6 L549.6,2058.3 L551.6,2058.0 L553.6,2057.8 L555.6,2057.5 L557.6,2057.2 L559.5,2056.9 L561.5,2056.6 L563.5,2056.2 L565.5,2055.9 L567.5,2055.5 L569.4,2055.1 L571.4,2054.7 L573.4,2054.2 L575.3,2053.8 L577.3,2053.3 L579.2,2052.8 L581.2,2052.2 L583.1,2051.6 L585.0,2051.0 L586.9,2050.4 L588.8,2049.7 L590.6,2049.0 L592.5,2048.3 L594.3,2047.5 L596.2,2046.7 L598.0,2045.9 L599.7,2045.0 L601.5,2044.1 L603.2,2043.1 L604.9,2042.2 L606.6,2041.1 L608.3,2040.1 L609.9,2038.9 L611.5,2037.8 L613.1,2036.6 L614.6,2035.4 L616.1,2034.1 L617.5,2032.8 L619.0,2031.4 L620.3,2030.0 L621.7,2028.6 L623.0,2027.1 L624.3,2025.6 L625.5,2024.1 L626.7,2022.5 L627.9,2021.0 L629.0,2019.3 L630.1,2017.7 L631.2,2016.0 L632.2,2014.3 L633.2,2012.6 L634.2,2010.8 L635.1,2009.1 L636.1,2007.3 L636.9,2005.5 L637.8,2003.7 L638.7,2001.9 L639.5,2000.1 L640.3,1998.3 L641.1,1996.4 L641.9,1994.6 L642.6,1992.7 L643.4,1990.8 L644.1,1989.0 L644.8,1987.1 L645.5,1985.2 L646.2,1983.3 L646.9,1981.4 L647.6,1979.5 L648.2,1977.6 L648.8,1975.7 L649.5,1973.8 L650.1,1971.9 L650.7,1969.9 L651.3,1968.0 L651.8,1966.1 L652.4,1964.2 L653.0,1962.2 L653.5,1960.3 L654.0,1958.3 L654.6,1956.4 L655.1,1954.5 L655.6,1952.5 L656.1,1950.6 L656.6,1948.6 L657.1,1946.7 L657.6,1944.7 L658.1,1942.8 L658.5,1940.8 L659.0,1938.9 L659.4,1936.9 L659.9,1935.0 L660.3,1933.0 L660.8,1931.1 L661.2,1929.1 L661.6,1927.1 L662.1,1925.2 L662.5,1923.2 L662.9,1921.3 L663.3,1919.3 L663.7,1917.3 L664.1,1915.4 L664.5,1913.4 L664.9,1911.5 L665.3,1909.5 L665.7,1907.5 L666.1,1905.6 L666.4,1903.6 L666.8,1901.6 L667.2,1899.7 L667.5,1897.7 L667.9,1895.7 L668.3,1893.8 L668.6,1891.8 L669.0,1889.8 L669.3,1887.9 L669.7,1885.9 L670.0,1883.9 L670.3,1882.0 L670.7,1880.0 L671.0,1878.0 L671.3,1876.0 L671.6,1874.1 L671.9,1872.1 L672.3,1870.1 L672.6,1868.1 L672.9,1866.2 L673.2,1864.2 L673.5,1862.2 L673.8,1860.2 L674.0,1858.2 L674.3,1856.3 L674.6,1854.3 L674.9,1852.3 L675.2,1850.3 L675.4,1848.3 L675.7,1846.4 L676.0,1844.4 L676.3,1842.4 L676.5,1840.4 L676.8,1838.4 L677.0,1836.4 L677.3,1834.5 L677.5,1832.5 L677.8,1830.5 L678.0,1828.5 L678.3,1826.5 L678.5,1824.5 L678.8,1822.6 L679.0,1820.6 L679.3,1818.6 L679.5,1816.6 L679.8,1814.6 L680.0,1812.6 L680.2,1810.6 L680.5,1808.7 L680.7,1806.7 L681.0,1804.7 L681.2,1802.7 L681.4,1800.7 L681.7,1798.7 L681.9,1796.7 L682.2,1794.8 L682.4,1792.8 L682.7,1790.8 L682.9,1788.8 L683.2,1786.8 L683.4,1784.8 L683.7,1782.8 L683.9,1780.9 L684.2,1778.9 L684.5,1776.9 L684.7,1774.9 L685.0,1772.9 L685.3,1771.0 L685.5,1769.0 L685.8,1767.0 L686.1,1765.0 L686.4,1763.0 L686.6,1761.0 L686.9,1759.1 L687.2,1757.1 L687.5,1755.1 L687.8,1753.1 L688.0,1751.1 L688.3,1749.2 L688.6,1747.2 L688.9,1745.2 L689.2,1743.2 L689.5,1741.2 L689.8,1739.3 L690.1,1737.3 L690.4,1735.3 L690.7,1733.3 L691.0,1731.4 L691.3,1729.4 L691.6,1727.4 L691.9,1725.4 L692.2,1723.4 L692.5,1721.5 L692.8,1719.5 L693.1,1717.5 L693.4,1715.5 L693.7,1713.6 L694.0,1711.6 L694.3,1709.6 L694.6,1707.6 L694.8,1705.6 L695.1,1703.7 L695.4,1701.7 L695.7,1699.7 L696.0,1697.7 L696.3,1695.8 L696.6,1693.8 L696.9,1691.8 L697.2,1689.8 L697.5,1687.8 L697.8,1685.9 L698.1,1683.9 L698.3,1681.9 L698.6,1679.9 L698.9,1677.9 L699.2,1676.0 L699.5,1674.0 L699.7,1672.0 L700.0,1670.0 L700.3,1668.0 L700.6,1666.0 L700.8,1664.1 L701.1,1662.1 L701.4,1660.1 L701.6,1658.1 L701.9,1656.1 L702.2,1654.2 L702.4,1652.2 L702.7,1650.2 L702.9,1648.2 L703.2,1646.2 L703.4,1644.2 L703.7,1642.2 L703.9,1640.3 L704.1,1638.3 L704.4,1636.3 L704.6,1634.3 L704.9,1632.3 L705.1,1630.3 L705.3,1628.3 L705.6,1626.4 L705.8,1624.4 L706.1,1622.4 L706.3,1620.4 L706.5,1618.4 L706.8,1616.4 L707.0,1614.4 L707.2,1612.5 L707.5,1610.5 L707.7,1608.5 L707.9,1606.5 L708.2,1604.5 L708.4,1602.5 L708.6,1600.5 L708.9,1598.5 L709.1,1596.6 L709.3,1594.6 L709.6,1592.6 L709.8,1590.6 L710.1,1588.6 L710.3,1586.6 L710.5,1584.6 L710.8,1582.7 L711.0,1580.7 L711.3,1578.7 L711.5,1576.7 L711.8,1574.7 L712.0,1572.7 L712.3,1570.8 L712.6,1568.8 L712.8,1566.8 L713.1,1564.8 L713.3,1562.8 L713.6,1560.8 L713.9,1558.9 L714.2,1556.9 L714.4,1554.9 L714.7,1552.9 L715.0,1550.9 L715.3,1549.0 L715.5,1547.0 L715.8,1545.0 L716.1,1543.0 L716.4,1541.0 L716.7,1539.1 L716.9,1537.1 L717.2,1535.1 L717.5,1533.1 L717.8,1531.1 L718.1,1529.2 L718.4,1527.2 L718.6,1525.2 L718.9,1523.2 L719.2,1521.2 L719.5,1519.3 L719.8,1517.3 L720.1,1515.3 L720.3,1513.3 L720.6,1511.3 L720.9,1509.4 L721.2,1507.4 L721.5,1505.4 L721.8,1503.4 L722.1,1501.4 L722.4,1499.5 L722.7,1497.5 L723.0,1495.5 L723.2,1493.5 L723.5,1491.6 L723.8,1489.6 L724.1,1487.6 L724.4,1485.6 L724.7,1483.6 L725.0,1481.7 L725.3,1479.7 L725.6,1477.7 L725.9,1475.7 L726.2,1473.8 L726.5,1471.8 L726.8,1469.8 L727.1,1467.8 L727.4,1465.8 L727.7,1463.9 L728.1,1461.9 L728.4,1459.9 L728.7,1457.9 L729.0,1456.0 L729.3,1454.0 L729.6,1452.0 L729.9,1450.0 L730.2,1448.0 L730.5,1446.1 L730.8,1444.1 L731.2,1442.1 L731.5,1440.1 L731.8,1438.2 L732.1,1436.2 L732.5,1434.2 L732.8,1432.2 L733.1,1430.2 L733.5,1428.3 L733.8,1426.3 L734.2,1424.3 L734.6,1422.3 L735.0,1420.4 L735.4,1418.4 L735.8,1416.4 L736.2,1414.4 L736.6,1412.5 L737.1,1410.5 L737.5,1408.5 L738.0,1406.6 L738.5,1404.6 L739.0,1402.7 L739.5,1400.7 L740.0,1398.8 L740.6,1396.8 L741.2,1394.9 L741.8,1393.0 L742.4,1391.0 L743.1,1389.1 L743.7,1387.2 L744.4,1385.3 L745.2,1383.4 L745.9,1381.6 L746.7,1379.7 L747.6,1377.9 L748.4,1376.1 L749.4,1374.3 L750.3,1372.5 L751.3,1370.8 L752.3,1369.1 L753.4,1367.4 L754.5,1365.7 L755.7,1364.1 L756.9,1362.5 L758.2,1361.0 L759.5,1359.5 L760.8,1358.0 L762.2,1356.6 L763.6,1355.3 L765.1,1354.0 L766.6,1352.7 L768.2,1351.5 L769.8,1350.4 L771.4,1349.3 L773.1,1348.3 L774.8,1347.4 L776.6,1346.5 L778.4,1345.7 L780.2,1345.0 L782.0,1344.4 L783.9,1343.8 L785.7,1343.3 L787.6,1342.9 L789.6,1342.5 L791.5,1342.2 L793.4,1342.1 L795.3,1341.9 L797.3,1341.9 L799.2,1342.0 L801.2,1342.1 L803.1,1342.3 L805.0,1342.6 L806.9,1342.9 L808.8,1343.4 L810.7,1343.9 L812.6,1344.5 L814.4,1345.1 L816.3,1345.8 L818.1,1346.6 L819.9,1347.4 L821.6,1348.3 L823.3,1349.3 L825.1,1350.3 L826.8,1351.3 L828.4,1352.4 L830.1,1353.6 L831.7,1354.7 L833.3,1355.9 L834.9,1357.2 L836.5,1358.4 L838.0,1359.7 L839.6,1361.0 L841.2,1362.3 L842.7,1363.6 L844.2,1364.9 L845.7,1366.3 L847.3,1367.6 L848.8,1369.0 L850.3,1370.3 L851.8,1371.7 L853.3,1373.0 L854.8,1374.4 L856.3,1375.7 L857.8,1377.1 L859.3,1378.4 L860.8,1379.8 L862.3,1381.1 L863.8,1382.4 L865.4,1383.8 L866.9,1385.1 L868.4,1386.4 L869.9,1387.7 L871.4,1389.0 L873.0,1390.3 L874.5,1391.6 L876.1,1392.9 L877.6,1394.2 L879.2,1395.4 L880.7,1396.7 L882.3,1397.9 L883.9,1399.2 L885.4,1400.4 L887.0,1401.6 L888.6,1402.8 L890.2,1404.0 L891.8,1405.2 L893.4,1406.4 L895.0,1407.6 L896.7,1408.7 L898.3,1409.9 L899.9,1411.0 L901.6,1412.1 L903.2,1413.3 L904.9,1414.4 L906.6,1415.5 L908.2,1416.6 L909.9,1417.6 L911.6,1418.7 L913.3,1419.8 L915.0,1420.8 L916.7,1421.9 L918.4,1422.9 L920.1,1423.9 L921.8,1424.9 L923.6,1426.0 L925.3,1427.0 L927.0,1428.0 L928.7,1429.0 L930.5,1430.0 L932.2,1431.0 L933.9,1432.0 L935.7,1433.0 L937.4,1434.0 L939.2,1435.0 L940.9,1435.9 L942.6,1436.9 L944.4,1437.9 L946.1,1438.9 L947.8,1439.9 L949.6,1440.9 L951.3,1441.9 L953.1,1442.9 L954.8,1443.9 L956.6,1444.8 L958.3,1445.8 L960.0,1446.8 L961.8,1447.7 L963.6,1448.7 L965.3,1449.7 L967.1,1450.6 L968.8,1451.6 L970.6,1452.5 L972.3,1453.5 L974.1,1454.4 L975.9,1455.4 L977.6,1456.3 L979.4,1457.2 L981.2,1458.1 L983.0,1459.1 L984.7,1460.0 L986.5,1460.9 L988.3,1461.8 L990.1,1462.7 L991.9,1463.6 L993.7,1464.5 L995.4,1465.4 L997.2,1466.3 L999.0,1467.2 L1000.8,1468.1 L1002.6,1469.0 L1004.4,1470.0 L1006.1,1470.9 L1007.9,1471.8 L1009.7,1472.7 L1011.4,1473.7 L1013.2,1474.6 L1014.9,1475.6 L1016.7,1476.6 L1018.4,1477.6 L1020.1,1478.6 L1021.9,1479.6 L1023.6,1480.6 L1025.3,1481.6 L1027.0,1482.7 L1028.7,1483.7 L1030.4,1484.8 L1032.0,1485.9 L1033.7,1487.0 L1035.4,1488.1 L1037.0,1489.2 L1038.7,1490.3 L1040.3,1491.5 L1042.0,1492.6 L1043.6,1493.8 L1045.2,1494.9 L1046.8,1496.1 L1048.5,1497.3 L1050.1,1498.5 L1051.7,1499.7 L1053.3,1500.9 L1054.9,1502.1 L1056.4,1503.3 L1058.0,1504.5 L1059.6,1505.8 L1061.2,1507.0 L1062.7,1508.3 L1064.3,1509.5 L1065.8,1510.8 L1067.4,1512.1 L1068.9,1513.3 L1070.5,1514.6 L1072.0,1515.9 L1073.5,1517.2 L1075.0,1518.5 L1076.6,1519.8 L1078.1,1521.1 L1079.6,1522.4 L1081.1,1523.7 L1082.6,1525.1 L1084.1,1526.4 L1085.6,1527.7 L1087.1,1529.1 L1088.5,1530.4 L1090.0,1531.8 L1091.5,1533.1 L1093.0,1534.5 L1094.4,1535.8 L1095.9,1537.2 L1097.3,1538.6 L1098.8,1539.9 L1100.3,1541.3 L1101.7,1542.7 L1103.1,1544.1 L1104.6,1545.5 L1106.0,1546.8 L1107.5,1548.2 L1108.9,1549.6 L1110.3,1551.0 L1111.8,1552.4 L1113.2,1553.8 L1114.6,1555.3 L1116.0,1556.7 L1117.4,1558.1 L1118.8,1559.5 L1120.2,1561.0 L1121.6,1562.4 L1123.0,1563.9 L1124.3,1565.3 L1125.7,1566.8 L1127.1,1568.2 L1128.4,1569.7 L1129.8,1571.2 L1131.1,1572.7 L1132.4,1574.2 L1133.8,1575.7 L1135.1,1577.1 L1136.4,1578.6 L1137.7,1580.2 L1139.0,1581.7 L1140.3,1583.2 L1141.6,1584.7 L1142.9,1586.2 L1144.2,1587.8 L1145.5,1589.3 L1146.8,1590.8 L1148.0,1592.4 L1149.3,1593.9 L1150.6,1595.5 L1151.8,1597.1 L1153.1,1598.6 L1154.3,1600.2 L1155.5,1601.8 L1156.8,1603.3 L1158.0,1604.9 L1159.2,1606.5 L1160.4,1608.1 L1161.6,1609.7 L1162.8,1611.3 L1164.0,1612.9 L1165.2,1614.5 L1166.4,1616.1 L1167.6,1617.7 L1168.7,1619.4 L1169.9,1621.0 L1171.0,1622.6 L1172.2,1624.3 L1173.3,1625.9 L1174.5,1627.5 L1175.6,1629.2 L1176.7,1630.9 L1177.9,1632.5 L1179.0,1634.2 L1180.1,1635.8 L1181.2,1637.5 L1182.3,1639.2 L1183.4,1640.8 L1184.5,1642.5 L1185.6,1644.2 L1186.7,1645.8 L1187.8,1647.5 L1189.0,1649.2 L1190.1,1650.8 L1191.2,1652.5 L1192.3,1654.1 L1193.4,1655.8 L1194.5,1657.5 L1195.6,1659.1 L1196.8,1660.8 L1197.9,1662.4 L1199.0,1664.1 L1200.2,1665.7 L1201.3,1667.3 L1202.5,1669.0 L1203.6,1670.6 L1204.8,1672.2 L1206.0,1673.8 L1207.2,1675.5 L1208.4,1677.1 L1209.6,1678.7 L1210.8,1680.3 L1212.0,1681.8 L1213.2,1683.4 L1214.4,1685.0 L1215.6,1686.6 L1216.9,1688.2 L1218.1,1689.7 L1219.3,1691.3 L1220.6,1692.9 L1221.8,1694.4 L1223.1,1696.0 L1224.3,1697.5 L1225.6,1699.1 L1226.9,1700.6 L1228.1,1702.2 L1229.4,1703.7 L1230.7,1705.3 L1232.0,1706.8 L1233.3,1708.3 L1234.6,1709.9 L1235.9,1711.4 L1237.2,1712.9 L1238.5,1714.4 L1239.8,1715.9 L1241.1,1717.4 L1242.4,1718.9 L1243.8,1720.4 L1245.1,1721.9 L1246.4,1723.4 L1247.8,1724.9 L1249.1,1726.3 L1250.5,1727.8 L1251.9,1729.3 L1253.2,1730.8 L1254.6,1732.2 L1255.9,1733.7 L1257.3,1735.2 L1258.7,1736.6 L1260.1,1738.1 L1261.4,1739.5 L1262.8,1741.0 L1264.2,1742.4 L1265.6,1743.9 L1267.0,1745.3 L1268.4,1746.7 L1269.8,1748.2 L1271.2,1749.6 L1272.7,1751.0 L1274.1,1752.4 L1275.5,1753.8 L1277.0,1755.2 L1278.4,1756.6 L1279.9,1758.0 L1281.3,1759.3 L1282.8,1760.7 L1284.3,1762.0 L1285.8,1763.4 L1287.3,1764.7 L1288.8,1766.0 L1290.3,1767.3 L1291.8,1768.6 L1293.4,1769.9 L1294.9,1771.2 L1296.5,1772.4 L1298.1,1773.6 L1299.7,1774.8 L1301.3,1776.0 L1302.9,1777.2 L1304.6,1778.3 L1306.2,1779.4 L1307.9,1780.5 L1309.6,1781.6 L1311.3,1782.6 L1313.0,1783.6 L1314.7,1784.6 L1316.5,1785.6 L1318.2,1786.5 L1320.0,1787.4 L1321.8,1788.3 L1323.6,1789.1 L1325.5,1789.9 L1327.3,1790.7 L1329.2,1791.4 L1331.0,1792.1 L1332.9,1792.8 L1334.8,1793.5 L1336.7,1794.1 L1338.6,1794.7 L1340.5,1795.2 L1342.4,1795.8 L1344.4,1796.2 L1346.3,1796.7 L1348.3,1797.1 L1350.2,1797.5 L1352.2,1797.9 L1354.2,1798.2 L1356.1,1798.5 L1358.1,1798.7 L1360.1,1798.9 L1362.1,1799.1 L1364.1,1799.2 L1366.1,1799.3 L1368.0,1799.3 L1370.0,1799.4 L1372.0,1799.3 L1374.0,1799.3 L1376.0,1799.2 L1378.0,1799.1 L1380.0,1798.9 L1382.0,1798.7 L1383.9,1798.5 L1385.9,1798.2 L1387.9,1797.9 L1389.8,1797.6 L1391.8,1797.2 L1393.8,1796.8 L1395.7,1796.4 L1397.7,1796.0 L1399.6,1795.5 L1401.6,1795.0 L1403.5,1794.5 L1405.4,1793.9 L1407.3,1793.4 L1409.3,1792.8 L1411.2,1792.2 L1413.1,1791.6 L1415.0,1791.0 L1416.9,1790.4 L1418.8,1789.7 L1420.7,1789.1 L1422.6,1788.4 L1424.5,1787.7 L1426.4,1787.0 L1428.3,1786.3 L1430.1,1785.6 L1432.0,1784.9 L1433.9,1784.2 L1435.7,1783.5 L1437.6,1782.8 L1439.5,1782.0 L1441.3,1781.3 L1443.2,1780.5 L1445.0,1779.7 L1446.9,1778.9 L1448.7,1778.2 L1450.6,1777.4 L1452.4,1776.6 L1454.2,1775.8 L1456.1,1775.0 L1457.9,1774.2 L1459.7,1773.3 L1461.5,1772.5 L1463.4,1771.7 L1465.2,1770.9 L1467.0,1770.1 L1468.8,1769.2 L1470.7,1768.4 L1472.5,1767.6 L1474.3,1766.8 L1476.1,1765.9 L1477.9,1765.1 L1479.8,1764.3 L1481.6,1763.4 L1483.4,1762.6 L1485.2,1761.8 L1487.1,1761.0 L1488.9,1760.2 L1490.7,1759.3 L1492.5,1758.5 L1494.4,1757.7 L1496.2,1756.9 L1498.0,1756.1 L1499.9,1755.4 L1501.7,1754.6 L1503.5,1753.8 L1505.4,1753.0 L1507.2,1752.2 L1509.1,1751.5 L1510.9,1750.7 L1512.8,1750.0 L1514.6,1749.2 L1516.5,1748.5 L1518.3,1747.7 L1520.2,1747.0 L1522.1,1746.3 L1523.9,1745.5 L1525.8,1744.8 L1527.6,1744.1 L1529.5,1743.3 L1531.3,1742.6 L1533.2,1741.8 L1535.1,1741.1 L1536.9,1740.3 L1538.8,1739.6 L1540.6,1738.8 L1542.4,1738.1 L1544.3,1737.3 L1546.1,1736.5 L1548.0,1735.7 L1549.8,1735.0 L1551.7,1734.2 L1553.5,1733.4 L1555.3,1732.6 L1557.2,1731.8 L1559.0,1731.0 L1560.9,1730.2 L1562.7,1729.4 L1564.5,1728.6 L1566.4,1727.8 L1568.2,1727.0 L1570.1,1726.2 L1571.9,1725.4 L1573.7,1724.6 L1575.6,1723.9 L1577.4,1723.1 L1579.3,1722.3 L1581.2,1721.6 L1583.0,1720.8 L1584.9,1720.1 L1586.8,1719.4 L1588.6,1718.6 L1590.5,1718.0 L1592.4,1717.3 L1594.3,1716.6 L1596.2,1716.0 L1598.1,1715.3 L1600.0,1714.7 L1602.0,1714.1 L1603.9,1713.6 L1605.8,1713.0 L1607.8,1712.5 L1609.7,1712.0 L1611.7,1711.6 L1613.6,1711.2 L1615.6,1710.8 L1617.6,1710.4 L1619.5,1710.1 L1621.5,1709.8 L1623.5,1709.5 L1625.5,1709.3 L1627.5,1709.1 L1629.5,1709.0 L1631.4,1708.9 L1633.4,1708.8 L1635.4,1708.8 L1637.4,1708.8 L1639.4,1708.9 L1641.4,1709.0 L1643.3,1709.1 L1645.3,1709.3 L1647.3,1709.6 L1649.2,1709.9 L1651.1,1710.2 L1653.1,1710.6 L1655.0,1711.1 L1656.9,1711.6 L1658.8,1712.2 L1660.6,1712.8 L1662.5,1713.4 L1664.3,1714.1 L1666.1,1714.9 L1667.9,1715.7 L1669.7,1716.6 L1671.5,1717.5 L1673.2,1718.4 L1674.9,1719.4 L1676.6,1720.4 L1678.3,1721.4 L1680.0,1722.5 L1681.6,1723.6 L1683.3,1724.8 L1684.9,1725.9 L1686.5,1727.1 L1688.1,1728.3 L1689.7,1729.6 L1691.3,1730.8 L1692.8,1732.1 L1694.4,1733.4 L1695.9,1734.7 L1697.4,1736.0 L1698.9,1737.3 L1700.4,1738.6 L1701.9,1740.0 L1703.4,1741.3 L1704.9,1742.7 L1706.3,1744.1 L1707.8,1745.5 L1709.2,1746.9 L1710.6,1748.3 L1712.1,1749.7 L1713.5,1751.1 L1714.9,1752.6 L1716.3,1754.0 L1717.7,1755.5 L1719.1,1756.9 L1720.4,1758.4 L1721.8,1759.8 L1723.2,1761.3 L1724.5,1762.8 L1725.9,1764.3 L1727.2,1765.8 L1728.5,1767.3 L1729.8,1768.8 L1731.1,1770.3 L1732.4,1771.8 L1733.7,1773.4 L1735.0,1774.9 L1736.2,1776.5 L1737.5,1778.0 L1738.7,1779.6 L1740.0,1781.1 L1741.2,1782.7 L1742.4,1784.3 L1743.6,1785.9 L1744.8,1787.5 L1746.0,1789.1 L1747.2,1790.7 L1748.3,1792.4 L1749.5,1794.0 L1750.6,1795.6 L1751.7,1797.3 L1752.9,1798.9 L1754.0,1800.6 L1755.1,1802.3 L1756.2,1803.9 L1757.3,1805.6 L1758.3,1807.3 L1759.4,1809.0 L1760.5,1810.7 L1761.5,1812.4 L1762.5,1814.1 L1763.6,1815.8 L1764.6,1817.6 L1765.6,1819.3 L1766.6,1821.0 L1767.6,1822.7 L1768.6,1824.5 L1769.6,1826.2 L1770.6,1828.0 L1771.5,1829.7 L1772.5,1831.5 L1773.5,1833.2 L1774.4,1835.0 L1775.4,1836.7 L1776.3,1838.5 L1777.3,1840.2 L1778.2,1842.0 L1779.2,1843.8 L1780.1,1845.5 L1781.1,1847.3 L1782.0,1849.1 L1783.0,1850.8 L1783.9,1852.6 L1784.8,1854.4 L1785.8,1856.1 L1786.7,1857.9 L1787.7,1859.6 L1788.6,1861.4 L1789.6,1863.2 L1790.5,1864.9 L1791.5,1866.7 L1792.4,1868.5 L1793.3,1870.2 L1794.3,1872.0 L1795.2,1873.8 L1796.1,1875.5 L1797.1,1877.3 L1798.0,1879.1 L1798.9,1880.8 L1799.8,1882.6 L1800.8,1884.4 L1801.7,1886.2 L1802.6,1887.9 L1803.5,1889.7 L1804.5,1891.5 L1805.4,1893.3 L1806.3,1895.0 L1807.2,1896.8 L1808.1,1898.6 L1809.0,1900.4 L1810.0,1902.1 L1810.9,1903.9 L1811.8,1905.7 L1812.7,1907.5 L1813.6,1909.3 L1814.4,1911.1 L1815.3,1912.9 L1816.2,1914.6 L1817.1,1916.4 L1818.0,1918.2 L1818.9,1920.0 L1819.7,1921.8 L1820.6,1923.6 L1821.5,1925.4 L1822.4,1927.2 L1823.2,1929.0 L1824.1,1930.8 L1825.0,1932.6 L1825.8,1934.4 L1826.7,1936.2 L1827.6,1938.0 L1828.4,1939.8 L1829.3,1941.6 L1830.1,1943.5 L1831.0,1945.3 L1831.9,1947.1 L1832.7,1948.9 L1833.6,1950.7 L1834.4,1952.5 L1835.3,1954.3 L1836.1,1956.1 L1837.0,1957.9 L1837.8,1959.7 L1838.7,1961.5 L1839.5,1963.4 L1840.4,1965.2 L1841.2,1967.0 L1842.1,1968.8 L1842.9,1970.6 L1843.8,1972.4 L1844.6,1974.2 L1845.5,1976.1 L1846.3,1977.9 L1847.2,1979.7 L1848.0,1981.5 L1848.9,1983.3 L1849.7,1985.1 L1850.6,1986.9 L1851.4,1988.7 L1852.3,1990.6 L1853.1,1992.4 L1854.0,1994.2 L1854.9,1996.0 L1855.7,1997.8 L1856.6,1999.6 L1857.5,2001.4 L1858.4,2003.2 L1859.2,2005.0 L1860.1,2006.8 L1861.0,2008.6 L1861.9,2010.4 L1862.8,2012.2 L1863.7,2014.0 L1864.7,2015.7 L1865.6,2017.5 L1866.5,2019.3 L1867.5,2021.0 L1868.4,2022.8 L1869.4,2024.5 L1870.4,2026.3 L1871.4,2028.0 L1872.4,2029.7 L1873.4,2031.4 L1874.5,2033.1 L1875.5,2034.8 L1876.6,2036.5 L1877.7,2038.1 L1878.9,2039.7 L1880.0,2041.4 L1881.2,2043.0 L1882.4,2044.5 L1883.6,2046.1 L1884.8,2047.7 L1886.1,2049.2 L1887.4,2050.7 L1888.7,2052.2 L1890.0,2053.7 L1891.4,2055.1 L1892.7,2056.6 L1894.1,2058.0 L1895.5,2059.4 L1896.9,2060.8 L1898.4,2062.2 L1899.8,2063.6 L1901.2,2065.0 L1902.7,2066.4 L1904.1,2067.8 L1905.6,2069.1 L1907.1,2070.5 L1908.5,2071.8 L1910.0,2073.2 L1911.5,2074.6 L1913.0,2075.9 L1914.4,2077.3 L1915.9,2078.6 L1917.4,2079.9 L1918.9,2081.3 L1920.4,2082.6 L1921.9,2084.0 L1923.4,2085.3 L1924.9,2086.6" fill="none" stroke="#FF00FF" stroke-width="7" stroke-linejoin="round" stroke-linecap="butt"/>
<path d="M278.0,2071.3 L280.0,2071.2 L282.0,2071.1 L284.0,2071.0 L286.0,2070.8 L288.0,2070.7 L290.0,2070.6 L292.0,2070.5 L294.0,2070.4 L296.0,2070.2 L298.0,2070.1 L300.0,2070.0 L302.0,2069.9 L304.0,2069.8 L306.0,2069.7 L308.0,2069.6 L310.0,2069.5 L312.0,2069.4 L314.0,2069.3 L316.0,2069.2 L318.0,2069.1 L320.0,2069.0 L322.0,2068.9 L324.0,2068.8 L326.0,2068.8 L328.0,2068.7 L330.0,2068.6 L332.0,2068.6 L334.0,2068.5 L336.0,2068.4 L338.0,2068.4 L340.0,2068.3 L342.0,2068.2 L344.0,2068.2 L346.0,2068.1 L348.0,2068.1 L350.0,2068.0 L352.0,2068.0 L354.0,2067.9 L356.0,2067.9 L358.0,2067.8 L360.0,2067.8 L362.0,2067.7 L364.0,2067.7 L366.0,2067.6 L368.0,2067.6 L370.0,2067.5 L372.0,2067.5 L374.0,2067.4 L376.0,2067.4 L378.0,2067.3 L380.0,2067.3 L382.0,2067.3 L384.0,2067.2 L386.0,2067.2 L388.0,2067.1 L390.0,2067.1 L392.0,2067.1 L394.0,2067.0 L396.0,2067.0 L398.0,2067.0 L400.0,2066.9 L402.0,2066.9 L404.0,2066.8 L406.0,2066.8 L408.0,2066.8 L410.0,2066.7 L412.0,2066.7 L414.0,2066.7 L416.0,2066.7 L418.0,2066.6 L420.0,2066.6 L422.0,2066.6 L424.0,2066.5 L426.0,2066.5 L428.0,2066.5 L430.0,2066.5 L432.0,2066.5 L434.0,2066.4 L436.0,2066.4 L438.0,2066.4 L440.0,2066.4 L442.0,2066.3 L444.0,2066.3 L446.0,2066.3 L448.0,2066.3 L450.0,2066.3 L452.0,2066.3 L454.0,2066.2 L456.0,2066.2 L458.0,2066.2 L460.0,2066.2 L462.0,2066.2 L464.0,2066.2 L466.0,2066.1 L468.0,2066.1 L470.0,2066.1 L472.0,2066.1 L474.0,2066.1 L476.0,2066.0 L478.0,2066.0 L480.0,2066.0 L482.0,2066.0 L484.0,2065.9 L486.0,2065.9 L488.0,2065.9 L490.0,2065.8 L492.0,2065.8 L494.0,2065.7 L496.0,2065.7 L498.0,2065.6 L500.0,2065.6 L502.0,2065.5 L504.0,2065.5 L506.0,2065.4 L508.0,2065.3 L510.0,2065.3 L512.0,2065.2 L514.0,2065.1 L516.0,2065.0 L518.0,2064.9 L520.0,2064.8 L522.0,2064.8 L524.0,2064.6 L526.0,2064.5 L528.0,2064.4 L530.0,2064.3 L532.0,2064.2 L534.0,2064.1 L536.0,2063.9 L538.0,2063.8 L540.0,2063.7 L542.0,2063.6 L544.0,2063.4 L546.0,2063.3 L548.0,2063.1 L550.0,2063.0 L552.0,2062.8 L554.0,2062.7 L556.0,2062.5 L558.0,2062.4 L560.0,2062.2 L562.0,2062.1 L564.0,2061.9 L566.0,2061.7 L568.0,2061.5 L570.0,2061.4 L571.9,2061.2 L573.9,2061.0 L575.9,2060.8 L577.9,2060.5 L579.9,2060.3 L581.9,2060.1 L583.9,2059.8 L585.9,2059.6 L587.9,2059.3 L589.8,2059.0 L591.8,2058.7 L593.8,2058.4 L595.8,2058.1 L597.7,2057.7 L599.7,2057.4 L601.7,2057.0 L603.6,2056.6 L605.6,2056.2 L607.5,2055.8 L609.5,2055.3 L611.4,2054.8 L613.4,2054.3 L615.3,2053.8 L617.2,2053.3 L619.2,2052.7 L621.1,2052.2 L623.0,2051.6 L624.9,2051.0 L626.8,2050.3 L628.7,2049.7 L630.6,2049.0 L632.5,2048.4 L634.4,2047.7 L636.2,2046.9 L638.1,2046.2 L640.0,2045.4 L641.8,2044.7 L643.7,2043.9 L645.5,2043.1 L647.3,2042.2 L649.2,2041.4 L651.0,2040.5 L652.8,2039.6 L654.5,2038.7 L656.3,2037.8 L658.1,2036.9 L659.8,2035.9 L661.6,2034.9 L663.3,2033.9 L665.0,2032.8 L666.7,2031.8 L668.4,2030.7 L670.0,2029.5 L671.6,2028.4 L673.2,2027.2 L674.8,2026.0 L676.4,2024.7 L677.9,2023.5 L679.4,2022.2 L680.9,2020.9 L682.4,2019.5 L683.8,2018.1 L685.2,2016.7 L686.6,2015.3 L688.0,2013.9 L689.3,2012.4 L690.6,2010.9 L691.9,2009.4 L693.2,2007.9 L694.4,2006.3 L695.6,2004.7 L696.8,2003.1 L697.9,2001.5 L699.1,1999.8 L700.1,1998.2 L701.2,1996.5 L702.2,1994.8 L703.2,1993.1 L704.2,1991.3 L705.2,1989.6 L706.1,1987.8 L707.0,1986.0 L707.9,1984.2 L708.7,1982.4 L709.6,1980.6 L710.4,1978.8 L711.2,1976.9 L712.0,1975.1 L712.7,1973.2 L713.5,1971.4 L714.2,1969.5 L714.9,1967.6 L715.6,1965.7 L716.3,1963.8 L717.0,1961.9 L717.7,1960.0 L718.3,1958.1 L719.0,1956.2 L719.6,1954.3 L720.2,1952.3 L720.8,1950.4 L721.5,1948.5 L722.1,1946.6 L722.7,1944.7 L723.3,1942.7 L723.9,1940.8 L724.4,1938.9 L725.0,1937.0 L725.6,1935.0 L726.1,1933.1 L726.7,1931.2 L727.3,1929.3 L727.8,1927.3 L728.4,1925.4 L728.9,1923.5 L729.4,1921.5 L730.0,1919.6 L730.5,1917.7 L731.0,1915.7 L731.5,1913.8 L732.1,1911.9 L732.6,1909.9 L733.1,1908.0 L733.6,1906.1 L734.1,1904.1 L734.7,1902.2 L735.2,1900.2 L735.7,1898.3 L736.2,1896.4 L736.7,1894.4 L737.2,1892.5 L737.7,1890.6 L738.2,1888.6 L738.7,1886.7 L739.2,1884.7 L739.7,1882.8 L740.2,1880.9 L740.7,1878.9 L741.2,1877.0 L741.7,1875.1 L742.2,1873.1 L742.7,1871.2 L743.2,1869.2 L743.6,1867.3 L744.1,1865.4 L744.6,1863.4 L745.1,1861.5 L745.6,1859.5 L746.1,1857.6 L746.6,1855.7 L747.1,1853.7 L747.6,1851.8 L748.1,1849.8 L748.5,1847.9 L749.0,1846.0 L749.5,1844.0 L750.0,1842.1 L750.5,1840.1 L751.0,1838.2 L751.5,1836.3 L752.0,1834.3 L752.4,1832.4 L752.9,1830.4 L753.4,1828.5 L753.9,1826.6 L754.4,1824.6 L754.9,1822.7 L755.4,1820.7 L755.8,1818.8 L756.3,1816.8 L756.8,1814.9 L757.3,1813.0 L757.8,1811.0 L758.2,1809.1 L758.7,1807.1 L759.2,1805.2 L759.7,1803.2 L760.1,1801.3 L760.6,1799.3 L761.1,1797.4 L761.5,1795.5 L762.0,1793.5 L762.5,1791.6 L762.9,1789.6 L763.4,1787.7 L763.8,1785.7 L764.3,1783.8 L764.7,1781.8 L765.2,1779.9 L765.6,1777.9 L766.1,1776.0 L766.5,1774.0 L767.0,1772.1 L767.4,1770.1 L767.8,1768.2 L768.3,1766.2 L768.7,1764.3 L769.2,1762.3 L769.6,1760.4 L770.0,1758.4 L770.5,1756.4 L770.9,1754.5 L771.3,1752.5 L771.8,1750.6 L772.2,1748.6 L772.6,1746.7 L773.1,1744.7 L773.5,1742.8 L773.9,1740.8 L774.4,1738.9 L774.8,1736.9 L775.3,1735.0 L775.7,1733.0 L776.1,1731.1 L776.6,1729.1 L777.0,1727.2 L777.5,1725.2 L777.9,1723.2 L778.4,1721.3 L778.8,1719.3 L779.3,1717.4 L779.7,1715.4 L780.1,1713.5 L780.6,1711.5 L781.0,1709.6 L781.5,1707.6 L781.9,1705.7 L782.4,1703.7 L782.8,1701.8 L783.3,1699.8 L783.8,1697.9 L784.2,1695.9 L784.7,1694.0 L785.1,1692.1 L785.6,1690.1 L786.0,1688.2 L786.5,1686.2 L786.9,1684.3 L787.4,1682.3 L787.9,1680.4 L788.3,1678.4 L788.8,1676.5 L789.3,1674.5 L789.7,1672.6 L790.2,1670.6 L790.7,1668.7 L791.1,1666.7 L791.6,1664.8 L792.1,1662.9 L792.6,1660.9 L793.0,1659.0 L793.5,1657.0 L794.0,1655.1 L794.5,1653.1 L795.0,1651.2 L795.5,1649.3 L796.0,1647.3 L796.5,1645.4 L797.0,1643.4 L797.4,1641.5 L797.9,1639.6 L798.4,1637.6 L798.9,1635.7 L799.4,1633.7 L799.9,1631.8 L800.4,1629.9 L800.9,1627.9 L801.4,1626.0 L801.9,1624.1 L802.4,1622.1 L802.9,1620.2 L803.4,1618.2 L803.9,1616.3 L804.4,1614.4 L804.9,1612.4 L805.3,1610.5 L805.8,1608.5 L806.3,1606.6 L806.8,1604.6 L807.3,1602.7 L807.7,1600.8 L808.2,1598.8 L808.7,1596.9 L809.2,1594.9 L809.7,1593.0 L810.1,1591.0 L810.6,1589.1 L811.1,1587.2 L811.6,1585.2 L812.1,1583.3 L812.5,1581.3 L813.0,1579.4 L813.5,1577.5 L814.0,1575.5 L814.5,1573.6 L815.0,1571.6 L815.5,1569.7 L816.0,1567.8 L816.5,1565.8 L817.0,1563.9 L817.6,1562.0 L818.1,1560.0 L818.6,1558.1 L819.1,1556.2 L819.7,1554.2 L820.2,1552.3 L820.7,1550.4 L821.3,1548.5 L821.8,1546.5 L822.3,1544.6 L822.9,1542.7 L823.4,1540.7 L823.9,1538.8 L824.5,1536.9 L825.0,1535.0 L825.6,1533.0 L826.1,1531.1 L826.7,1529.2 L827.3,1527.3 L827.9,1525.3 L828.4,1523.4 L829.0,1521.5 L829.6,1519.6 L830.2,1517.7 L830.9,1515.8 L831.5,1513.9 L832.1,1512.0 L832.8,1510.1 L833.4,1508.2 L834.1,1506.3 L834.8,1504.4 L835.4,1502.5 L836.1,1500.6 L836.8,1498.7 L837.6,1496.9 L838.3,1495.0 L839.1,1493.1 L839.8,1491.3 L840.6,1489.5 L841.4,1487.6 L842.3,1485.8 L843.1,1484.0 L844.0,1482.2 L844.9,1480.4 L845.9,1478.6 L846.8,1476.9 L847.8,1475.1 L848.9,1473.4 L849.9,1471.7 L851.0,1470.0 L852.1,1468.3 L853.2,1466.7 L854.4,1465.1 L855.6,1463.4 L856.8,1461.8 L858.1,1460.3 L859.4,1458.7 L860.7,1457.2 L862.1,1455.7 L863.5,1454.2 L864.9,1452.8 L866.3,1451.4 L867.8,1450.0 L869.3,1448.7 L870.8,1447.4 L872.4,1446.2 L874.0,1445.0 L875.6,1443.9 L877.2,1442.8 L878.9,1441.8 L880.6,1440.9 L882.4,1440.0 L884.1,1439.2 L885.9,1438.5 L887.7,1437.8 L889.6,1437.2 L891.4,1436.7 L893.3,1436.3 L895.2,1436.0 L897.1,1435.7 L899.0,1435.5 L900.9,1435.4 L902.8,1435.4 L904.7,1435.5 L906.7,1435.6 L908.6,1435.8 L910.5,1436.1 L912.4,1436.4 L914.3,1436.8 L916.2,1437.3 L918.1,1437.9 L920.0,1438.5 L921.9,1439.1 L923.7,1439.8 L925.5,1440.6 L927.4,1441.4 L929.2,1442.3 L931.0,1443.2 L932.8,1444.1 L934.6,1445.1 L936.3,1446.0 L938.1,1447.1 L939.8,1448.1 L941.5,1449.2 L943.2,1450.3 L944.9,1451.4 L946.6,1452.5 L948.3,1453.6 L950.0,1454.8 L951.7,1455.9 L953.3,1457.1 L955.0,1458.3 L956.7,1459.4 L958.3,1460.6 L960.0,1461.8 L961.6,1463.0 L963.2,1464.1 L964.9,1465.3 L966.5,1466.5 L968.1,1467.7 L969.8,1468.9 L971.4,1470.1 L973.0,1471.3 L974.6,1472.4 L976.3,1473.6 L977.9,1474.8 L979.5,1476.0 L981.1,1477.2 L982.7,1478.4 L984.3,1479.6 L985.9,1480.8 L987.5,1482.0 L989.1,1483.2 L990.7,1484.4 L992.3,1485.6 L993.9,1486.8 L995.5,1488.0 L997.1,1489.2 L998.7,1490.4 L1000.3,1491.6 L1001.9,1492.8 L1003.5,1494.0 L1005.1,1495.3 L1006.7,1496.5 L1008.2,1497.7 L1009.8,1498.9 L1011.4,1500.2 L1013.0,1501.4 L1014.5,1502.7 L1016.1,1503.9 L1017.6,1505.2 L1019.2,1506.4 L1020.8,1507.7 L1022.3,1508.9 L1023.9,1510.2 L1025.4,1511.4 L1027.0,1512.7 L1028.5,1514.0 L1030.1,1515.2 L1031.6,1516.5 L1033.2,1517.7 L1034.7,1519.0 L1036.3,1520.3 L1037.9,1521.5 L1039.4,1522.7 L1041.0,1524.0 L1042.6,1525.2 L1044.1,1526.5 L1045.7,1527.7 L1047.3,1528.9 L1048.9,1530.1 L1050.5,1531.3 L1052.1,1532.6 L1053.7,1533.8 L1055.3,1535.0 L1056.9,1536.1 L1058.5,1537.3 L1060.1,1538.5 L1061.7,1539.7 L1063.3,1540.9 L1065.0,1542.0 L1066.6,1543.2 L1068.2,1544.4 L1069.8,1545.6 L1071.4,1546.7 L1073.1,1547.9 L1074.7,1549.1 L1076.3,1550.2 L1077.9,1551.4 L1079.6,1552.6 L1081.2,1553.7 L1082.8,1554.9 L1084.4,1556.1 L1086.1,1557.3 L1087.7,1558.4 L1089.3,1559.6 L1090.9,1560.8 L1092.5,1562.0 L1094.2,1563.1 L1095.8,1564.3 L1097.4,1565.5 L1099.0,1566.6 L1100.7,1567.8 L1102.3,1569.0 L1103.9,1570.1 L1105.5,1571.3 L1107.2,1572.5 L1108.8,1573.6 L1110.5,1574.8 L1112.1,1575.9 L1113.7,1577.0 L1115.4,1578.2 L1117.1,1579.3 L1118.7,1580.4 L1120.4,1581.5 L1122.0,1582.6 L1123.7,1583.7 L1125.4,1584.8 L1127.1,1585.9 L1128.8,1586.9 L1130.5,1588.0 L1132.2,1589.0 L1133.9,1590.1 L1135.6,1591.1 L1137.3,1592.1 L1139.0,1593.2 L1140.8,1594.2 L1142.5,1595.2 L1144.2,1596.2 L1146.0,1597.1 L1147.7,1598.1 L1149.5,1599.1 L1151.2,1600.1 L1153.0,1601.0 L1154.7,1602.0 L1156.5,1603.0 L1158.2,1603.9 L1160.0,1604.9 L1161.7,1605.8 L1163.5,1606.8 L1165.3,1607.8 L1167.0,1608.7 L1168.8,1609.7 L1170.5,1610.7 L1172.3,1611.6 L1174.0,1612.6 L1175.8,1613.6 L1177.5,1614.6 L1179.2,1615.6 L1181.0,1616.6 L1182.7,1617.6 L1184.4,1618.6 L1186.1,1619.7 L1187.8,1620.7 L1189.5,1621.8 L1191.2,1622.9 L1192.8,1624.0 L1194.5,1625.1 L1196.2,1626.2 L1197.8,1627.3 L1199.4,1628.5 L1201.1,1629.6 L1202.7,1630.8 L1204.3,1632.0 L1205.9,1633.2 L1207.5,1634.4 L1209.1,1635.6 L1210.6,1636.9 L1212.2,1638.1 L1213.7,1639.4 L1215.3,1640.7 L1216.8,1642.0 L1218.3,1643.3 L1219.8,1644.6 L1221.3,1645.9 L1222.8,1647.3 L1224.2,1648.6 L1225.7,1650.0 L1227.1,1651.4 L1228.6,1652.8 L1230.0,1654.2 L1231.4,1655.6 L1232.8,1657.0 L1234.2,1658.4 L1235.6,1659.8 L1237.0,1661.3 L1238.4,1662.7 L1239.8,1664.2 L1241.1,1665.7 L1242.5,1667.2 L1243.8,1668.6 L1245.1,1670.1 L1246.5,1671.6 L1247.8,1673.1 L1249.1,1674.6 L1250.5,1676.1 L1251.8,1677.6 L1253.1,1679.1 L1254.4,1680.6 L1255.8,1682.1 L1257.1,1683.6 L1258.4,1685.1 L1259.8,1686.6 L1261.1,1688.1 L1262.4,1689.6 L1263.8,1691.1 L1265.1,1692.6 L1266.5,1694.1 L1267.9,1695.6 L1269.2,1697.0 L1270.6,1698.5 L1272.0,1700.0 L1273.4,1701.4 L1274.7,1702.9 L1276.1,1704.3 L1277.5,1705.8 L1278.9,1707.2 L1280.3,1708.7 L1281.7,1710.1 L1283.2,1711.5 L1284.6,1712.9 L1286.1,1714.3 L1287.5,1715.6 L1289.0,1717.0 L1290.5,1718.3 L1292.0,1719.6 L1293.5,1720.9 L1295.1,1722.2 L1296.6,1723.4 L1298.2,1724.6 L1299.8,1725.8 L1301.4,1727.0 L1303.1,1728.1 L1304.7,1729.2 L1306.4,1730.3 L1308.1,1731.3 L1309.8,1732.3 L1311.6,1733.3 L1313.3,1734.2 L1315.1,1735.1 L1316.9,1736.0 L1318.7,1736.8 L1320.5,1737.6 L1322.4,1738.4 L1324.2,1739.1 L1326.1,1739.8 L1328.0,1740.5 L1329.9,1741.1 L1331.8,1741.7 L1333.7,1742.3 L1335.6,1742.8 L1337.6,1743.3 L1339.5,1743.7 L1341.5,1744.1 L1343.4,1744.5 L1345.4,1744.8 L1347.4,1745.2 L1349.4,1745.4 L1351.3,1745.6 L1353.3,1745.8 L1355.3,1746.0 L1357.3,1746.1 L1359.3,1746.2 L1361.3,1746.2 L1363.3,1746.2 L1365.3,1746.2 L1367.3,1746.1 L1369.3,1746.0 L1371.3,1745.8 L1373.2,1745.6 L1375.2,1745.4 L1377.2,1745.1 L1379.1,1744.7 L1381.1,1744.4 L1383.1,1744.0 L1385.0,1743.6 L1386.9,1743.1 L1388.9,1742.6 L1390.8,1742.1 L1392.7,1741.5 L1394.6,1740.9 L1396.5,1740.3 L1398.4,1739.6 L1400.3,1739.0 L1402.2,1738.3 L1404.1,1737.6 L1405.9,1736.8 L1407.8,1736.0 L1409.6,1735.3 L1411.4,1734.4 L1413.3,1733.6 L1415.1,1732.8 L1416.9,1731.9 L1418.7,1731.0 L1420.5,1730.1 L1422.3,1729.2 L1424.0,1728.2 L1425.8,1727.3 L1427.5,1726.3 L1429.3,1725.3 L1431.0,1724.3 L1432.8,1723.3 L1434.5,1722.3 L1436.2,1721.3 L1438.0,1720.3 L1439.7,1719.2 L1441.4,1718.2 L1443.1,1717.2 L1444.8,1716.1 L1446.5,1715.0 L1448.2,1714.0 L1449.9,1712.9 L1451.6,1711.9 L1453.3,1710.8 L1455.0,1709.8 L1456.7,1708.7 L1458.4,1707.6 L1460.1,1706.6 L1461.8,1705.5 L1463.5,1704.5 L1465.3,1703.5 L1467.0,1702.4 L1468.7,1701.4 L1470.4,1700.4 L1472.1,1699.3 L1473.9,1698.3 L1475.6,1697.3 L1477.3,1696.3 L1479.0,1695.3 L1480.8,1694.3 L1482.5,1693.3 L1484.3,1692.3 L1486.0,1691.3 L1487.8,1690.3 L1489.5,1689.4 L1491.3,1688.4 L1493.0,1687.4 L1494.8,1686.5 L1496.6,1685.5 L1498.3,1684.6 L1500.1,1683.6 L1501.9,1682.7 L1503.7,1681.8 L1505.5,1680.9 L1507.3,1680.1 L1509.1,1679.2 L1510.9,1678.4 L1512.7,1677.6 L1514.6,1676.8 L1516.4,1676.0 L1518.3,1675.3 L1520.2,1674.6 L1522.0,1673.9 L1523.9,1673.2 L1525.8,1672.6 L1527.7,1671.9 L1529.7,1671.4 L1531.6,1670.8 L1533.5,1670.3 L1535.5,1669.8 L1537.4,1669.3 L1539.4,1668.9 L1541.3,1668.5 L1543.3,1668.1 L1545.3,1667.8 L1547.3,1667.5 L1549.3,1667.2 L1551.2,1667.0 L1553.2,1666.8 L1555.2,1666.7 L1557.2,1666.6 L1559.2,1666.5 L1561.2,1666.5 L1563.2,1666.5 L1565.2,1666.6 L1567.2,1666.7 L1569.2,1666.8 L1571.1,1667.1 L1573.1,1667.3 L1575.1,1667.6 L1577.0,1668.0 L1578.9,1668.3 L1580.9,1668.8 L1582.8,1669.3 L1584.7,1669.8 L1586.6,1670.4 L1588.4,1671.1 L1590.3,1671.8 L1592.1,1672.5 L1594.0,1673.3 L1595.8,1674.1 L1597.5,1675.0 L1599.3,1675.9 L1601.0,1676.8 L1602.7,1677.8 L1604.4,1678.9 L1606.1,1679.9 L1607.8,1681.0 L1609.4,1682.2 L1611.0,1683.4 L1612.6,1684.6 L1614.2,1685.8 L1615.7,1687.1 L1617.2,1688.4 L1618.7,1689.7 L1620.2,1691.1 L1621.7,1692.4 L1623.1,1693.8 L1624.5,1695.2 L1626.0,1696.7 L1627.4,1698.1 L1628.7,1699.6 L1630.1,1701.0 L1631.5,1702.5 L1632.8,1704.0 L1634.1,1705.6 L1635.4,1707.1 L1636.7,1708.6 L1638.0,1710.2 L1639.3,1711.7 L1640.6,1713.3 L1641.8,1714.8 L1643.1,1716.4 L1644.3,1718.0 L1645.6,1719.6 L1646.8,1721.2 L1648.0,1722.8 L1649.2,1724.4 L1650.4,1726.0 L1651.6,1727.6 L1652.8,1729.3 L1653.9,1730.9 L1655.1,1732.5 L1656.3,1734.2 L1657.4,1735.8 L1658.6,1737.5 L1659.7,1739.1 L1660.8,1740.7 L1662.0,1742.4 L1663.1,1744.1 L1664.2,1745.7 L1665.3,1747.4 L1666.5,1749.0 L1667.6,1750.7 L1668.7,1752.4 L1669.8,1754.0 L1670.9,1755.7 L1672.0,1757.4 L1673.1,1759.0 L1674.2,1760.7 L1675.3,1762.4 L1676.4,1764.1 L1677.5,1765.7 L1678.6,1767.4 L1679.7,1769.1 L1680.8,1770.7 L1681.9,1772.4 L1683.0,1774.1 L1684.1,1775.7 L1685.2,1777.4 L1686.3,1779.1 L1687.4,1780.8 L1688.5,1782.4 L1689.6,1784.1 L1690.7,1785.8 L1691.8,1787.5 L1692.8,1789.2 L1693.9,1790.9 L1695.0,1792.6 L1696.0,1794.3 L1697.1,1796.0 L1698.1,1797.7 L1699.1,1799.4 L1700.1,1801.1 L1701.2,1802.8 L1702.2,1804.6 L1703.2,1806.3 L1704.2,1808.0 L1705.2,1809.8 L1706.1,1811.5 L1707.1,1813.3 L1708.1,1815.0 L1709.0,1816.8 L1710.0,1818.5 L1710.9,1820.3 L1711.9,1822.1 L1712.8,1823.8 L1713.7,1825.6 L1714.6,1827.4 L1715.5,1829.2 L1716.4,1830.9 L1717.3,1832.7 L1718.2,1834.5 L1719.1,1836.3 L1720.0,1838.1 L1720.8,1839.9 L1721.7,1841.7 L1722.6,1843.5 L1723.4,1845.4 L1724.3,1847.2 L1725.1,1849.0 L1725.9,1850.8 L1726.8,1852.6 L1727.6,1854.4 L1728.4,1856.3 L1729.3,1858.1 L1730.1,1859.9 L1730.9,1861.7 L1731.7,1863.6 L1732.5,1865.4 L1733.3,1867.2 L1734.1,1869.1 L1734.9,1870.9 L1735.7,1872.7 L1736.5,1874.6 L1737.3,1876.4 L1738.1,1878.2 L1738.9,1880.1 L1739.7,1881.9 L1740.5,1883.7 L1741.3,1885.6 L1742.1,1887.4 L1742.9,1889.2 L1743.7,1891.1 L1744.5,1892.9 L1745.3,1894.7 L1746.1,1896.5 L1746.9,1898.4 L1747.8,1900.2 L1748.6,1902.0 L1749.4,1903.8 L1750.3,1905.6 L1751.1,1907.4 L1751.9,1909.2 L1752.8,1911.1 L1753.6,1912.9 L1754.5,1914.7 L1755.3,1916.5 L1756.2,1918.3 L1757.0,1920.1 L1757.8,1921.9 L1758.7,1923.7 L1759.5,1925.5 L1760.4,1927.4 L1761.2,1929.2 L1762.1,1931.0 L1762.9,1932.8 L1763.8,1934.6 L1764.6,1936.4 L1765.5,1938.2 L1766.3,1940.0 L1767.2,1941.8 L1768.0,1943.7 L1768.9,1945.5 L1769.7,1947.3 L1770.6,1949.1 L1771.4,1950.9 L1772.3,1952.7 L1773.1,1954.5 L1774.0,1956.3 L1774.8,1958.2 L1775.7,1960.0 L1776.5,1961.8 L1777.4,1963.6 L1778.2,1965.4 L1779.1,1967.2 L1779.9,1969.0 L1780.8,1970.8 L1781.6,1972.7 L1782.5,1974.5 L1783.3,1976.3 L1784.2,1978.1 L1785.0,1979.9 L1785.9,1981.7 L1786.8,1983.5 L1787.6,1985.3 L1788.5,1987.2 L1789.4,1989.0 L1790.2,1990.8 L1791.1,1992.6 L1792.0,1994.4 L1792.9,1996.2 L1793.8,1998.0 L1794.7,1999.8 L1795.6,2001.6 L1796.5,2003.4 L1797.4,2005.2 L1798.3,2007.0 L1799.2,2008.8 L1800.2,2010.6 L1801.1,2012.3 L1802.1,2014.1 L1803.0,2015.9 L1804.0,2017.6 L1805.0,2019.4 L1806.0,2021.1 L1807.1,2022.8 L1808.1,2024.5 L1809.2,2026.2 L1810.3,2027.9 L1811.4,2029.5 L1812.5,2031.2 L1813.7,2032.8 L1814.9,2034.4 L1816.1,2036.0 L1817.4,2037.5 L1818.6,2039.0 L1819.9,2040.5 L1821.3,2042.0 L1822.7,2043.4 L1824.1,2044.8 L1825.5,2046.2 L1827.0,2047.5 L1828.5,2048.8 L1830.0,2050.0 L1831.6,2051.2 L1833.1,2052.4 L1834.8,2053.5 L1836.4,2054.6 L1838.1,2055.6 L1839.8,2056.6 L1841.5,2057.6 L1843.3,2058.5 L1845.0,2059.3 L1846.8,2060.2 L1848.7,2060.9 L1850.5,2061.7 L1852.4,2062.4 L1854.2,2063.1 L1856.1,2063.7 L1858.0,2064.3 L1859.9,2064.9 L1861.8,2065.4 L1863.8,2065.9 L1865.7,2066.4 L1867.7,2066.9 L1869.6,2067.3 L1871.6,2067.7 L1873.6,2068.2 L1875.5,2068.5 L1877.5,2068.9 L1879.5,2069.3 L1881.5,2069.7 L1883.4,2070.0 L1885.4,2070.4 L1887.4,2070.7 L1889.4,2071.1 L1891.4,2071.4 L1893.4,2071.8 L1895.3,2072.1 L1897.3,2072.5 L1899.3,2072.8 L1901.3,2073.1 L1903.3,2073.5 L1905.2,2073.8 L1907.2,2074.1 L1909.2,2074.5 L1911.2,2074.8 L1913.1,2075.1 L1915.1,2075.5 L1917.1,2075.8 L1919.1,2076.1 L1921.0,2076.5 L1923.0,2076.8 L1925.0,2077.1" fill="none" stroke="#0000FF" stroke-width="7" stroke-linejoin="round" stroke-linecap="butt"/>
<g stroke="#000" stroke-width="5" fill="none" stroke-linecap="butt">
<line x1="181.5" y1="48.0" x2="181.5" y2="2134.0"/>
<line x1="1918.6" y1="48.0" x2="1918.6" y2="2134.0"/>
<line x1="157" y1="50.5" x2="1921.1" y2="50.5"/>
<line x1="157" y1="1082.0" x2="1921.1" y2="1082.0" stroke-width="6"/>
<line x1="157" y1="2113.5" x2="1921.1" y2="2113.5"/>
<line x1="157" y1="197.9" x2="181.5" y2="197.9"/>
<line x1="157" y1="345.2" x2="181.5" y2="345.2"/>
<line x1="157" y1="492.6" x2="181.5" y2="492.6"/>
<line x1="157" y1="639.9" x2="181.5" y2="639.9"/>
<line x1="157" y1="787.3" x2="181.5" y2="787.3"/>
<line x1="157" y1="934.6" x2="181.5" y2="934.6"/>
<line x1="157" y1="1185.2" x2="181.5" y2="1185.2"/>
<line x1="157" y1="1288.3" x2="181.5" y2="1288.3"/>
<line x1="157" y1="1391.5" x2="181.5" y2="1391.5"/>
<line x1="157" y1="1494.6" x2="181.5" y2="1494.6"/>
<line x1="157" y1="1597.8" x2="181.5" y2="1597.8"/>
<line x1="157" y1="1700.9" x2="181.5" y2="1700.9"/>
<line x1="157" y1="1804.0" x2="181.5" y2="1804.0"/>
<line x1="157" y1="1907.2" x2="181.5" y2="1907.2"/>
<line x1="157" y1="2010.3" x2="181.5" y2="2010.3"/>
<line x1="278.0" y1="2113.5" x2="278.0" y2="2128.0"/>
<line x1="374.5" y1="2113.5" x2="374.5" y2="2134.0"/>
<line x1="471.0" y1="2113.5" x2="471.0" y2="2128.0"/>
<line x1="567.5" y1="2113.5" x2="567.5" y2="2134.0"/>
<line x1="664.0" y1="2113.5" x2="664.0" y2="2128.0"/>
<line x1="760.5" y1="2113.5" x2="760.5" y2="2134.0"/>
<line x1="857.0" y1="2113.5" x2="857.0" y2="2128.0"/>
<line x1="953.5" y1="2113.5" x2="953.5" y2="2134.0"/>
<line x1="1050.0" y1="2113.5" x2="1050.0" y2="2128.0"/>
<line x1="1146.6" y1="2113.5" x2="1146.6" y2="2134.0"/>
<line x1="1243.1" y1="2113.5" x2="1243.1" y2="2128.0"/>
<line x1="1339.6" y1="2113.5" x2="1339.6" y2="2134.0"/>
<line x1="1436.1" y1="2113.5" x2="1436.1" y2="2128.0"/>
<line x1="1532.6" y1="2113.5" x2="1532.6" y2="2134.0"/>
<line x1="1629.1" y1="2113.5" x2="1629.1" y2="2128.0"/>
<line x1="1725.6" y1="2113.5" x2="1725.6" y2="2134.0"/>
<line x1="1822.1" y1="2113.5" x2="1822.1" y2="2128.0"/>
</g>
<text x="181.70" y="2213.40" font-family="'Liberation Sans', Arial, sans-serif" font-size="67" text-anchor="middle" fill="#000">0</text>
<text x="374.51" y="2213.40" font-family="'Liberation Sans', Arial, sans-serif" font-size="67" text-anchor="middle" fill="#000">100</text>
<text x="566.35" y="2213.40" font-family="'Liberation Sans', Arial, sans-serif" font-size="67" text-anchor="middle" fill="#000">200</text>
<text x="760.23" y="2213.40" font-family="'Liberation Sans', Arial, sans-serif" font-size="67" text-anchor="middle" fill="#000">300</text>
<text x="953.74" y="2213.40" font-family="'Liberation Sans', Arial, sans-serif" font-size="67" text-anchor="middle" fill="#000">400</text>
<text x="1147.40" y="2213.40" font-family="'Liberation Sans', Arial, sans-serif" font-size="67" text-anchor="middle" fill="#000">500</text>
<text x="1340.47" y="2213.40" font-family="'Liberation Sans', Arial, sans-serif" font-size="67" text-anchor="middle" fill="#000">600</text>
<text x="1533.58" y="2213.40" font-family="'Liberation Sans', Arial, sans-serif" font-size="67" text-anchor="middle" fill="#000">700</text>
<text x="1726.79" y="2213.40" font-family="'Liberation Sans', Arial, sans-serif" font-size="67" text-anchor="middle" fill="#000">800</text>
<text x="1920.10" y="2213.40" font-family="'Liberation Sans', Arial, sans-serif" font-size="67" text-anchor="middle" fill="#000">900</text>
<text x="1053.55" y="2311.45" font-family="'Liberation Sans', Arial, sans-serif" font-size="75" text-anchor="middle" fill="#000"><tspan font-style="italic">T</tspan> / °C</text>
<text transform="translate(102.00,1080.75) rotate(-90)" font-family="'Liberation Sans', Arial, sans-serif" font-size="75" text-anchor="middle" fill="#000"><tspan font-style="italic">Intensity</tspan> / a.u.</text>
<text x="206.85" y="153.20" font-family="'Liberation Sans', Arial, sans-serif" font-size="75" text-anchor="start" fill="#000">(a)</text>
<text x="209.20" y="1181.55" font-family="'Liberation Sans', Arial, sans-serif" font-size="75" text-anchor="start" fill="#000">(b)</text>
<text x="254.45" y="440.55" font-family="'Liberation Sans', Arial, sans-serif" font-size="57" text-anchor="start" fill="#000">0.02</text>
<text x="253.70" y="1363.05" font-family="'Liberation Sans', Arial, sans-serif" font-size="57" text-anchor="start" fill="#000">0.01</text>
<polygon points="223.6,339.0 240.6,374.0 228.1,362.0 228.1,476.5 240.6,465.0 223.6,499.0 206.6,465.0 219.1,476.5 219.1,362.0 206.6,374.0" fill="#000"/>
<polygon points="220.8,1286.0 237.8,1319.7 225.1,1309.2 225.1,1370.5 237.8,1358.7 220.8,1393.5 203.8,1358.7 216.5,1370.5 216.5,1309.2 203.8,1319.7" fill="#000"/>
<g font-family="'Liberation Sans', Arial, sans-serif" font-size="50.5" fill="#000">
<text x="393.4" y="851.0">123</text>
<text x="408.9" y="934.9">127</text>
<text x="963.9" y="636.0">429</text>
<text x="1288.5" y="603.0">598</text>
<text x="1455.9" y="206.5">684</text>
<text x="1517.0" y="435.4">714</text>
<text x="747.5" y="1318.9">313</text>
<text x="855.9" y="1409.6">377</text>
<text x="1034.2" y="1465.7">460</text>
<text x="1198.6" y="1608.8">545</text>
<text x="1519.4" y="1640.8">712</text>
<text x="1615.2" y="1685.7">760</text>
</g>
</svg></body></html>
